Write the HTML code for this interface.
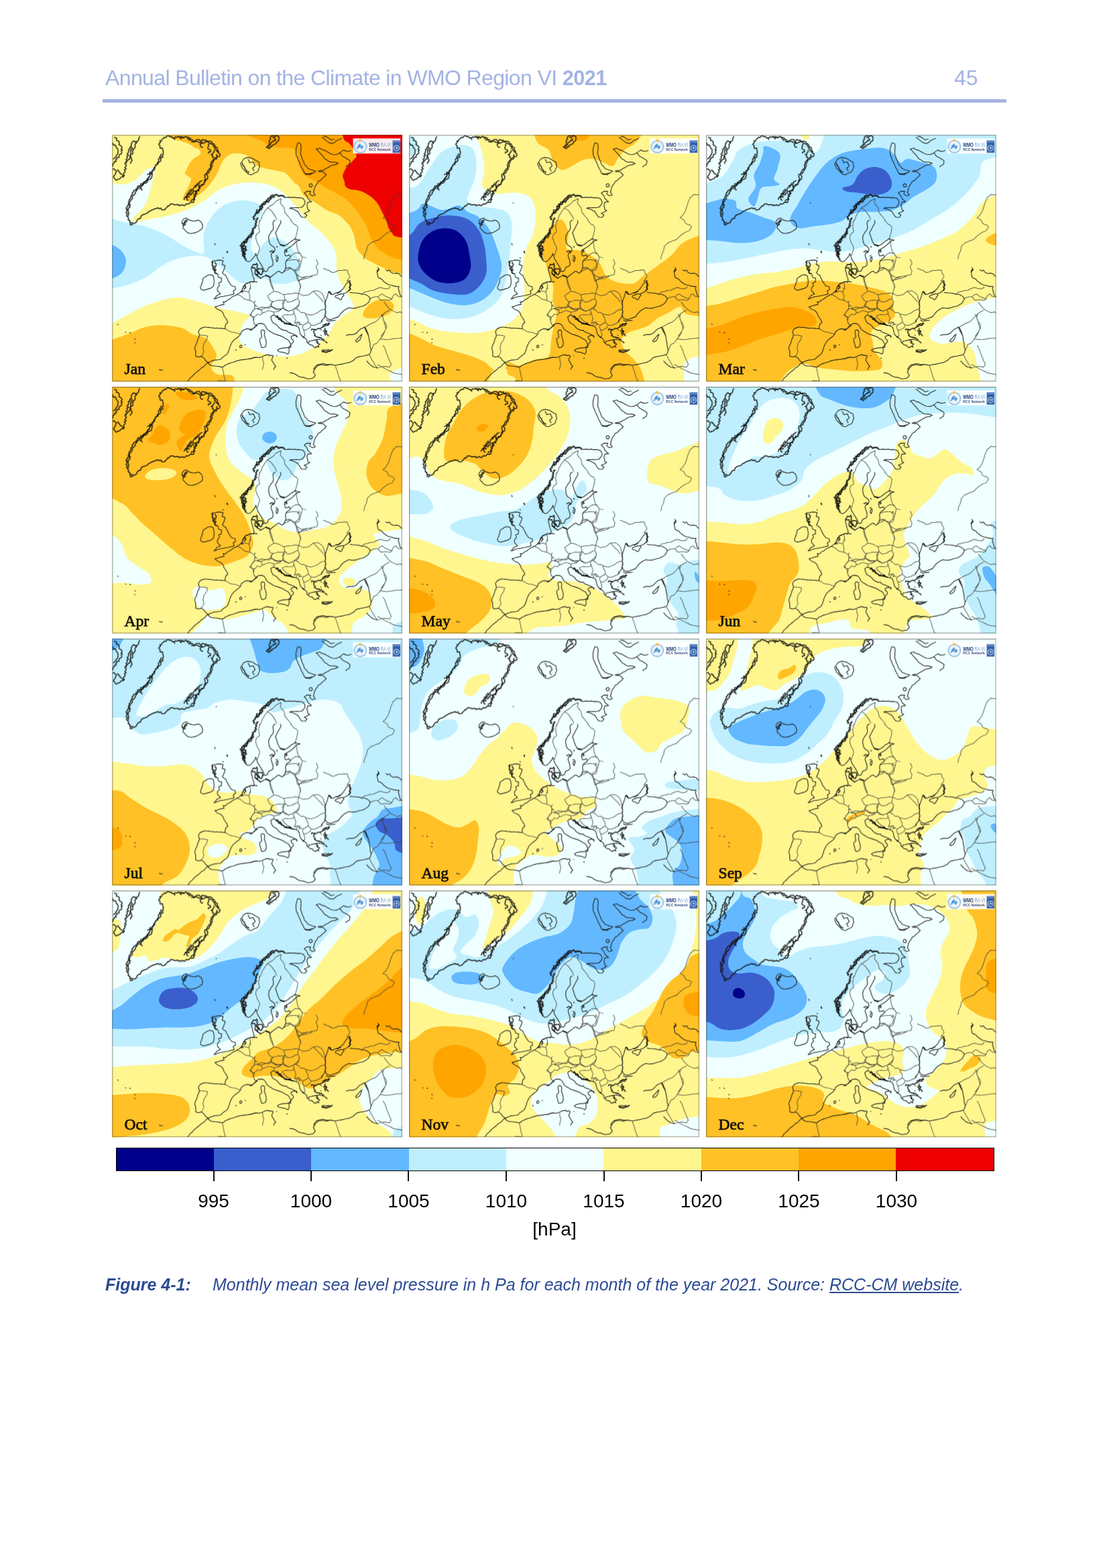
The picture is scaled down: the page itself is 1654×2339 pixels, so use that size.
<!DOCTYPE html>
<html lang="en"><head><meta charset="utf-8"><title>Annual Bulletin on the Climate in WMO Region VI 2021</title>
<style>
html,body{margin:0;padding:0;background:#fff}
body{width:1654px;height:2339px;position:relative;overflow:hidden;font-family:"Liberation Sans",sans-serif}
.abs{position:absolute;white-space:nowrap;line-height:1}
#fig{position:absolute;left:0;top:0;display:block}
.hdr{left:157px;top:100px;font-size:32px;color:#a3b3e3;letter-spacing:-0.62px}
.hdr b{font-size:30.6px;letter-spacing:-0.5px}
.pg{left:1423px;top:100px;font-size:32px;color:#a3b3e3}
.rule{position:absolute;left:153px;top:148px;width:1348px;height:5px;background:#a3b3e3}
.cb{position:absolute;left:172.6px;top:1712.2px;width:1310px;height:35px;border:1px solid #000;box-sizing:border-box;display:flex}
.cb i{flex:1;display:block}
.tk{position:absolute;top:1747px;width:2px;height:15px;background:#111}
.tl{font-size:28px;color:#000;top:1778px;width:120px;text-align:center}
.cap{top:1904px;font-size:25px;font-style:italic;color:#2c4a94}
.cap a{color:#2c4a94;text-decoration:underline}
</style></head><body>
<div class="abs hdr">Annual Bulletin on the Climate in WMO Region VI <b>2021</b></div>
<div class="abs pg">45</div>
<div class="rule"></div>
<svg id="fig" width="1654" height="2339" viewBox="0 0 1654 2339">

<svg x="167.20" y="201.20" width="432.7" height="368" viewBox="19.06 19.06 1586.24 1349.06" preserveAspectRatio="none">
<rect x="0" y="0" width="1700" height="1400" fill="#fff68f"/>
<path fill="#f0ffff" d="M-40,250C-40,250 30,287 60,290C90,293 117,282 140,270C163,258 182,227 200,215C218,203 244,188 250,200C256,212 243,257 235,290C227,323 218,367 200,400C182,433 122,478 130,490C138,502 205,483 250,475C295,467 355,456 400,440C445,424 483,402 520,380C557,358 582,327 620,310C658,293 703,282 750,280C797,278 858,283 900,300C942,317 970,350 1000,380C1030,410 1050,448 1080,480C1110,512 1153,540 1180,570C1207,600 1228,625 1240,660C1252,695 1240,743 1250,780C1260,817 1285,850 1300,880C1315,910 1343,938 1340,960C1337,982 1298,993 1280,1010C1262,1027 1243,1043 1230,1060C1217,1077 1218,1090 1200,1110C1182,1130 1147,1162 1120,1180C1093,1198 1073,1212 1040,1220C1007,1228 960,1233 920,1230C880,1227 833,1213 800,1200C767,1187 732,1173 720,1150C708,1127 722,1083 730,1060C738,1037 775,1022 770,1010C765,998 728,992 700,985C672,978 633,973 600,965C567,957 533,944 500,935C467,926 433,912 400,910C367,908 333,912 300,920C267,928 233,941 200,955C167,969 140,984 100,1005C60,1026 -40,1080 -40,1080L-40,250Z"/>
<path fill="#bfefff" d="M-40,460C-40,460 20,480 60,490C100,500 160,508 200,520C240,532 267,543 300,560C333,577 372,604 400,620C428,636 450,648 470,655C490,662 512,681 520,665C528,649 513,592 520,560C527,528 543,495 560,470C577,445 597,425 620,410C643,395 672,384 700,380C728,376 767,378 790,385C813,392 835,404 840,420C845,436 828,457 820,480C812,503 797,533 790,560C783,587 777,622 780,640C783,658 798,675 810,670C822,665 835,625 850,610C865,595 882,582 900,580C918,578 942,588 960,600C978,612 997,630 1010,650C1023,670 1035,695 1040,720C1045,745 1050,782 1040,800C1030,818 1003,825 980,830C957,835 922,835 900,830C878,825 868,802 850,800C832,798 810,810 790,815C770,820 750,834 730,830C710,826 690,805 670,790C650,775 628,755 610,740C592,725 578,710 560,700C542,690 527,682 500,680C473,678 433,682 400,690C367,698 333,712 300,730C267,748 233,782 200,800C167,818 140,828 100,840C60,852 -40,870 -40,870L-40,460Z"/>
<path fill="#63b8ff" d="M-40,600C-40,600 11,615 30,625C49,635 64,646 75,660C86,674 95,692 95,710C95,728 86,755 75,770C64,785 49,792 30,800C11,808 -40,820 -40,820L-40,600Z"/>
<path fill="#ffc125" d="M326,-40C326,-40 322,7 326,20C330,33 338,34 351,40C364,46 386,50 401,55C416,60 429,64 441,70C453,76 462,85 471,90C480,95 491,94 496,100C501,106 505,118 501,125C497,132 480,138 471,145C462,152 454,159 446,170C438,181 431,200 426,210C421,220 414,225 416,231C418,237 430,241 436,246C442,251 450,254 451,261C452,268 445,281 441,291C437,301 431,311 426,321C421,331 414,343 411,351C408,359 404,366 406,371C408,376 417,379 426,381C435,383 453,384 461,381C469,378 469,368 476,361C483,354 492,348 501,341C510,334 522,325 531,316C540,307 548,297 556,286C564,275 574,263 581,251C588,239 595,228 601,215C607,202 611,186 616,176C621,166 625,160 632,152C639,144 648,135 657,130C666,125 675,122 686,121C697,120 712,120 724,122C736,124 746,126 757,133C768,140 780,154 789,163C798,172 804,182 811,187C818,192 823,192 833,195C843,198 860,203 873,206C886,209 900,211 914,214C928,217 945,218 955,222C965,226 969,230 976,236C983,242 988,249 995,257C1002,265 1010,275 1017,282C1024,289 1031,287 1039,298C1047,309 1055,335 1064,346C1073,357 1084,359 1094,366C1104,373 1115,379 1125,386C1135,393 1145,399 1155,406C1165,413 1175,420 1185,426C1195,432 1205,437 1215,441C1225,445 1235,446 1245,451C1255,456 1266,464 1275,471C1284,478 1292,488 1300,496C1308,504 1314,512 1320,521C1326,530 1331,541 1335,551C1339,561 1342,570 1345,581C1348,592 1348,605 1350,616C1352,627 1355,637 1360,646C1365,655 1372,663 1380,671C1388,679 1393,688 1405,696C1417,704 1434,712 1450,720C1466,728 1482,737 1500,745C1518,753 1527,761 1560,770C1593,779 1700,800 1700,800L1700,-60L326,-40Z"/>
<path fill="#ffa500" d="M760,-40C760,-40 763,8 768,20C773,32 780,29 789,33C798,37 811,41 822,46C833,51 843,56 854,62C865,68 877,75 887,79C897,83 903,85 914,87C925,89 942,88 955,89C968,90 984,90 995,92C1006,94 1016,94 1022,100C1028,106 1032,118 1034,130C1036,142 1032,157 1034,170C1036,183 1042,198 1049,210C1056,222 1064,232 1074,241C1084,250 1097,254 1109,261C1121,268 1134,274 1145,281C1156,288 1164,294 1175,301C1186,308 1199,315 1210,321C1221,327 1229,330 1240,336C1251,342 1264,349 1275,356C1286,363 1296,368 1305,376C1314,384 1322,392 1330,401C1338,410 1348,421 1355,431C1362,441 1368,451 1375,461C1382,471 1388,480 1395,491C1402,502 1410,514 1415,526C1420,538 1421,549 1425,561C1429,573 1434,585 1440,596C1446,607 1452,617 1460,626C1468,635 1476,644 1485,651C1494,658 1505,665 1515,671C1525,677 1535,682 1545,686C1555,690 1549,690 1575,696C1601,702 1700,720 1700,720L1700,-60L760,-40Z"/>
<path fill="#ee0000" d="M1270,-40C1270,-40 1278,22 1285,40C1292,58 1306,55 1315,65C1324,75 1333,88 1340,100C1347,112 1356,125 1355,135C1354,145 1342,152 1335,160C1328,168 1318,176 1310,185C1302,194 1295,205 1290,215C1285,225 1280,236 1280,246C1280,256 1288,267 1290,276C1292,285 1290,294 1295,301C1300,308 1310,313 1320,316C1330,319 1343,318 1355,321C1367,324 1378,326 1390,331C1402,336 1414,344 1425,351C1436,358 1447,368 1455,376C1463,384 1469,392 1475,401C1481,410 1485,421 1490,431C1495,441 1500,451 1505,461C1510,471 1516,480 1520,491C1524,502 1525,515 1530,526C1535,537 1542,548 1550,556C1558,564 1550,570 1575,576C1600,582 1700,590 1700,590L1700,-60L1270,-40Z"/>
<path fill="#ffc125" d="M-40,1160C-40,1160 60,1125 100,1110C140,1095 167,1078 200,1070C233,1062 267,1059 300,1060C333,1061 373,1067 400,1075C427,1083 438,1101 460,1110C482,1119 512,1118 530,1130C548,1142 560,1163 570,1180C580,1197 592,1212 590,1230C588,1248 558,1273 560,1290C562,1307 580,1322 600,1330C620,1338 663,1322 680,1340C697,1358 700,1440 700,1440L-40,1440L-40,1160Z"/>
<path fill="#ffc125" d="M1390,1000C1392,988 1405,963 1420,950C1435,937 1460,923 1480,920C1500,917 1527,923 1540,930C1553,937 1562,948 1560,960C1558,972 1547,990 1530,1000C1513,1010 1480,1017 1460,1020C1440,1023 1422,1023 1410,1020C1398,1017 1388,1012 1390,1000Z"/>
<path fill="#f0ffff" d="M1560,1400C1560,1400 1525,1340 1540,1320C1555,1300 1650,1280 1650,1280L1700,1400L1560,1400Z"/>
</svg>
<svg x="610.20" y="201.20" width="432.7" height="368" viewBox="19.06 19.06 1586.24 1349.06" preserveAspectRatio="none">
<rect x="0" y="0" width="1700" height="1400" fill="#fff68f"/>
<path fill="#f0ffff" d="M-40,-40L330,-40C330,-40 383,20 400,60C417,100 427,160 430,200C433,240 408,277 420,300C432,323 470,334 500,340C530,346 570,332 600,335C630,338 662,342 680,360C698,378 707,408 710,440C713,472 708,517 700,550C692,583 670,608 660,640C650,672 642,705 640,740C638,775 650,815 650,850C650,885 648,922 640,950C632,978 620,1000 600,1020C580,1040 553,1057 520,1070C487,1083 440,1095 400,1100C360,1105 322,1103 280,1100C238,1097 187,1090 150,1080C113,1070 92,1053 60,1040C28,1027 -40,1000 -40,1000L-40,-40Z"/>
<path fill="#bfefff" d="M-40,20C-40,20 22,20 40,30C58,40 70,63 70,80C70,97 58,118 40,130C22,142 -40,150 -40,150L-40,20Z"/>
<path fill="#bfefff" d="M-40,300C-40,300 32,317 60,300C88,283 107,232 130,200C153,168 172,131 200,110C228,89 273,78 300,75C327,72 346,78 360,90C374,102 382,123 385,150C388,177 386,220 380,250C374,280 357,308 350,330C343,352 332,367 340,380C348,393 377,403 400,410C423,417 455,415 480,420C505,425 533,427 550,440C567,453 576,473 580,500C584,527 578,560 575,600C572,640 566,698 560,740C554,782 550,818 540,850C530,882 523,905 500,930C477,955 433,984 400,1000C367,1016 333,1022 300,1025C267,1028 233,1026 200,1020C167,1014 140,1005 100,990C60,975 -40,930 -40,930L-40,300Z"/>
<path fill="#63b8ff" d="M-40,470C-40,470 37,442 60,430C83,418 77,395 100,395C123,395 168,428 200,430C232,432 267,403 290,405C313,407 322,429 340,440C358,451 380,453 400,470C420,487 443,512 460,540C477,568 489,607 500,640C511,673 525,708 525,740C525,772 512,803 500,830C488,857 470,882 450,900C430,918 405,932 380,940C355,948 330,952 300,950C270,948 233,940 200,930C167,920 140,907 100,890C60,873 -40,830 -40,830L-40,470Z"/>
<path fill="#3a5fcd" d="M-40,600C-40,600 10,577 30,560C50,543 58,515 80,500C102,485 132,477 160,470C188,463 220,458 250,460C280,462 315,467 340,480C365,493 385,517 400,540C415,563 423,593 430,620C437,647 438,673 440,700C442,727 447,755 440,780C433,805 417,832 400,850C383,868 365,883 340,890C315,897 282,893 250,890C218,887 178,880 150,870C122,860 112,845 80,830C48,815 -40,780 -40,780L-40,600Z"/>
<path fill="#00008b" d="M68,680C70,658 78,622 90,600C102,578 120,562 140,550C160,538 187,531 210,530C233,529 260,533 280,545C300,557 318,578 330,600C342,622 346,655 350,680C354,705 360,728 355,750C350,772 338,797 320,810C302,823 275,828 250,830C225,832 193,828 170,820C147,812 126,795 110,780C94,765 82,747 75,730C68,713 66,702 68,680Z"/>
<path fill="#ffc125" d="M690,-40C690,-40 705,37 720,60C735,83 765,82 780,100C795,118 798,152 810,170C822,188 835,206 850,210C865,214 882,203 900,195C918,187 940,168 960,160C980,152 1000,148 1020,150C1040,152 1062,163 1080,170C1098,177 1117,193 1130,190C1143,187 1148,165 1160,150C1172,135 1183,115 1200,100C1217,85 1238,83 1260,60C1282,37 1330,-40 1330,-40L690,-40Z"/>
<path fill="#ffa500" d="M890,-40C890,-40 908,25 920,40C932,55 947,52 960,50C973,48 992,45 1000,30C1008,15 1010,-40 1010,-40L890,-40Z"/>
<path fill="#ffc125" d="M840,480C848,480 862,487 870,500C878,513 888,537 890,560C892,583 872,625 880,640C888,655 920,645 940,650C960,655 980,658 1000,670C1020,682 1045,702 1060,720C1075,738 1080,765 1090,780C1100,795 1105,802 1120,810C1135,818 1158,827 1180,830C1202,833 1230,837 1250,830C1270,823 1280,805 1300,790C1320,775 1345,758 1370,740C1395,722 1423,703 1450,680C1477,657 1488,623 1530,600C1572,577 1700,540 1700,540L1700,1020C1700,1020 1573,1010 1540,1000C1507,990 1517,962 1500,960C1483,958 1460,980 1440,990C1420,1000 1398,1008 1380,1020C1362,1032 1347,1050 1330,1060C1313,1070 1298,1073 1280,1080C1262,1087 1237,1090 1220,1100C1203,1110 1183,1123 1180,1140C1177,1157 1188,1182 1200,1200C1212,1218 1235,1232 1250,1250C1265,1268 1278,1278 1290,1310C1302,1342 1320,1440 1320,1440L-40,1440L-40,1080C-40,1080 47,1115 80,1130C113,1145 130,1158 160,1170C190,1182 227,1190 260,1200C293,1210 332,1220 360,1230C388,1240 410,1248 430,1260C450,1272 462,1293 480,1300C498,1307 527,1307 540,1300C553,1293 547,1263 560,1260C573,1257 597,1282 620,1280C643,1278 673,1258 700,1250C727,1242 764,1247 780,1230C796,1213 790,1178 795,1150C800,1122 805,1085 810,1060C815,1035 826,1023 825,1000C824,977 808,945 805,920C802,895 810,870 808,850C806,830 797,822 790,800C783,778 773,747 765,720C757,693 738,667 740,640C742,613 767,583 780,560C793,537 810,513 820,500C830,487 832,480 840,480Z"/>
<path fill="#fff68f" d="M440,1400C440,1400 460,1338 470,1320C480,1302 487,1293 500,1290C513,1287 540,1293 550,1300C560,1307 552,1322 560,1330C568,1338 593,1338 600,1350C607,1362 600,1400 600,1400L440,1400Z"/>
<path fill="#f0ffff" d="M1530,1400C1530,1400 1515,1317 1520,1290C1525,1263 1530,1252 1560,1240C1590,1228 1700,1220 1700,1220L1700,1400L1530,1400Z"/>
</svg>
<svg x="1053.20" y="201.20" width="432.7" height="368" viewBox="19.06 19.06 1586.24 1349.06" preserveAspectRatio="none">
<rect x="0" y="0" width="1700" height="1400" fill="#f0ffff"/>
<path fill="#fff68f" d="M-40,880C-40,880 60,843 100,830C140,817 167,808 200,800C233,792 267,785 300,780C333,775 367,775 400,770C433,765 467,758 500,750C533,742 567,729 600,722C633,715 667,711 700,710C733,709 767,715 800,715C833,715 867,714 900,710C933,706 967,698 1000,690C1033,682 1067,670 1100,660C1133,650 1167,642 1200,630C1233,618 1267,605 1300,590C1333,575 1370,562 1400,540C1430,518 1457,487 1480,460C1503,433 1503,407 1540,380C1577,353 1700,300 1700,300L1700,1440L-40,1440L-40,880Z"/>
<path fill="#fff68f" d="M530,-40C530,-40 532,17 540,30C548,43 572,52 580,40C588,28 585,-40 585,-40L530,-40Z"/>
<path fill="#f0ffff" d="M1700,890C1700,890 1553,915 1500,930C1447,945 1415,962 1380,980C1345,998 1313,1017 1290,1040C1267,1063 1238,1100 1240,1120C1242,1140 1270,1155 1300,1160C1330,1165 1390,1143 1420,1150C1450,1157 1467,1178 1480,1200C1493,1222 1490,1240 1500,1280C1510,1320 1540,1440 1540,1440L1700,1440L1700,890Z"/>
<path fill="#ffc125" d="M-40,965C-40,965 60,949 100,940C140,931 167,920 200,910C233,900 267,890 300,880C333,870 367,858 400,850C433,842 467,836 500,830C533,824 567,817 600,815C633,813 667,818 700,820C733,822 767,825 800,830C833,835 870,843 900,850C930,857 958,862 980,870C1002,878 1020,885 1030,900C1040,915 1037,942 1040,960C1043,978 1057,995 1050,1010C1043,1025 1017,1040 1000,1050C983,1060 963,1062 950,1070C937,1078 923,1087 920,1100C917,1113 927,1133 930,1150C933,1167 932,1182 940,1200C948,1218 975,1243 980,1260C985,1277 983,1292 970,1300C957,1308 928,1308 900,1310C872,1312 833,1312 800,1310C767,1308 730,1303 700,1300C670,1297 643,1295 620,1290C597,1285 580,1270 560,1270C540,1270 518,1280 500,1290C482,1300 470,1305 450,1330C430,1355 380,1440 380,1440L-40,1440L-40,965Z"/>
<path fill="#ffa500" d="M-40,1090C-40,1090 60,1072 100,1060C140,1048 167,1032 200,1020C233,1008 267,998 300,990C333,982 370,975 400,970C430,965 453,958 480,960C507,962 538,972 560,980C582,988 600,998 610,1010C620,1022 625,1040 620,1050C615,1060 600,1065 580,1070C560,1075 530,1073 500,1080C470,1087 433,1100 400,1110C367,1120 333,1128 300,1140C267,1152 233,1168 200,1180C167,1192 140,1202 100,1210C60,1218 -40,1230 -40,1230L-40,1090Z"/>
<path fill="#ffc125" d="M1700,520C1700,520 1593,555 1570,570C1547,585 1538,597 1560,610C1582,623 1700,650 1700,650L1700,520Z"/>
<path fill="#bfefff" d="M-40,300C-40,300 67,272 100,250C133,228 143,195 160,170C177,145 177,118 200,100C223,82 263,68 300,60C337,52 380,50 420,50C460,50 510,50 540,60C570,70 583,105 600,110C617,115 627,115 640,90C653,65 680,-40 680,-40L1700,-40L1700,130C1700,130 1572,140 1540,160C1508,180 1527,220 1510,250C1493,280 1467,312 1440,340C1413,368 1382,397 1350,420C1318,443 1283,460 1250,480C1217,500 1183,523 1150,540C1117,557 1083,568 1050,580C1017,592 983,600 950,610C917,620 883,632 850,640C817,648 783,658 750,660C717,662 683,653 650,650C617,647 583,640 550,640C517,640 483,645 450,650C417,655 383,663 350,670C317,677 283,683 250,690C217,697 198,703 150,710C102,717 -40,730 -40,730L-40,300Z"/>
<path fill="#63b8ff" d="M340,80C355,80 408,100 420,120C432,140 415,177 410,200C405,223 388,245 390,260C392,275 422,283 420,290C418,297 397,297 380,300C363,303 333,298 320,310C307,322 307,353 300,370C293,387 288,410 280,410C272,410 248,388 250,370C252,352 285,322 290,300C295,278 277,260 280,240C283,220 302,200 310,180C318,160 325,137 330,120C335,103 325,80 340,80Z"/>
<path fill="#63b8ff" d="M-40,410C-40,410 70,377 100,370C130,363 127,368 140,370C153,372 172,372 180,380C188,388 178,410 190,420C202,430 227,432 250,440C273,448 305,460 330,470C355,480 392,485 400,500C408,515 397,543 380,560C363,577 330,592 300,600C270,608 233,610 200,610C167,610 140,603 100,600C60,597 -40,590 -40,590L-40,410Z"/>
<path fill="#63b8ff" d="M480,470C485,452 507,423 520,400C533,377 543,357 560,330C577,303 600,267 620,240C640,213 657,190 680,170C703,150 730,132 760,120C790,108 823,105 860,100C897,95 950,87 980,90C1010,93 1023,107 1040,120C1057,133 1067,165 1080,170C1093,175 1100,150 1120,150C1140,150 1177,163 1200,170C1223,177 1247,180 1260,190C1273,200 1278,215 1280,230C1282,245 1280,265 1270,280C1260,295 1240,307 1220,320C1200,333 1170,347 1150,360C1130,373 1118,388 1100,400C1082,412 1063,423 1040,430C1017,437 987,438 960,440C933,442 903,438 880,440C857,442 840,442 820,450C800,458 783,480 760,490C737,500 707,505 680,510C653,515 625,517 600,520C575,523 548,532 530,530C512,528 498,520 490,510C482,500 475,488 480,470Z"/>
<path fill="#3a5fcd" d="M765,310C770,303 806,302 820,290C834,278 838,254 850,240C862,226 873,212 890,205C907,198 932,193 950,195C968,197 987,204 1000,215C1013,226 1025,244 1030,260C1035,276 1037,297 1030,310C1023,323 1008,334 990,340C972,346 943,346 920,345C897,344 872,338 850,335C828,332 804,334 790,330C776,326 760,317 765,310Z"/>
</svg>
<svg x="167.20" y="576.95" width="432.7" height="368" viewBox="19.06 18.15 1586.24 1349.06" preserveAspectRatio="none">
<rect x="0" y="0" width="1700" height="1400" fill="#fff68f"/>
<path fill="#ffc125" d="M-40,-40L685,-40C685,-40 678,60 670,100C662,140 655,167 640,200C625,233 595,267 580,300C565,333 548,367 550,400C552,433 575,470 590,500C605,530 622,553 640,580C658,607 682,633 700,660C718,687 737,713 750,740C763,767 773,797 780,820C787,843 793,860 790,880C787,900 775,925 760,940C745,955 720,962 700,970C680,978 660,985 640,990C620,995 603,1000 580,1000C557,1000 527,997 500,990C473,983 447,975 420,960C393,945 367,922 340,900C313,878 285,852 260,830C235,808 212,790 190,770C168,750 148,728 130,710C112,692 108,678 80,660C52,642 -40,600 -40,600L-40,-40Z"/>
<path fill="#ffa500" d="M215,316C212,308 228,294 236,281C244,268 254,250 261,241C268,232 273,226 281,226C289,226 303,235 311,241C319,247 327,252 331,261C335,270 338,286 336,296C334,306 330,314 321,321C312,328 293,335 281,336C269,337 262,329 251,326C240,323 218,324 215,316Z"/>
<path fill="#ffa500" d="M386,241C387,230 394,213 401,200C408,187 416,173 426,165C436,157 448,153 461,150C474,147 490,145 501,145C512,145 521,145 526,150C531,155 532,165 531,175C530,185 526,197 521,210C516,223 508,239 501,251C494,263 489,273 481,281C473,289 460,296 451,301C442,306 433,304 426,311C419,318 416,331 411,341C406,351 401,369 396,371C391,373 385,359 381,351C377,343 370,329 371,321C372,313 378,308 386,301C394,294 414,287 416,281C418,275 401,273 396,266C391,259 385,252 386,241Z"/>
<path fill="#ffa500" d="M366,55C366,49 380,46 391,45C402,44 418,47 431,50C444,53 462,60 471,65C480,70 488,76 486,80C484,84 472,88 461,90C450,92 433,92 421,90C409,88 400,86 391,80C382,74 366,61 366,55Z"/>
<path fill="#ffa500" d="M296,150C298,142 306,126 311,120C316,114 323,113 326,115C329,117 333,123 331,130C329,137 321,148 316,155C311,162 304,171 301,170C298,169 294,158 296,150Z"/>
<path fill="#fff68f" d="M200,506C202,500 210,488 220,481C230,474 246,469 261,466C276,463 296,462 311,463C326,464 341,467 351,471C361,475 369,480 371,486C373,492 368,500 361,506C354,512 344,517 331,521C318,525 298,528 281,529C264,530 239,528 226,526C213,524 209,522 205,519C201,516 198,512 200,506Z"/>
<path fill="#f0ffff" d="M750,-40C750,-40 737,37 720,80C703,123 663,178 650,220C637,262 638,297 640,330C642,363 647,395 660,420C673,445 698,462 720,480C742,498 777,513 790,530C803,547 800,560 800,580C800,600 788,630 790,650C792,670 800,685 810,700C820,715 835,730 850,740C865,750 883,752 900,760C917,768 933,782 950,790C967,798 982,806 1000,810C1018,814 1040,817 1060,815C1080,813 1100,804 1120,800C1140,796 1162,797 1180,790C1198,783 1215,775 1230,760C1245,745 1263,723 1270,700C1277,677 1273,647 1270,620C1267,593 1257,568 1250,540C1243,512 1232,482 1230,450C1228,418 1232,382 1240,350C1248,318 1268,288 1280,260C1292,232 1307,207 1310,180C1313,153 1310,122 1300,100C1290,78 1267,73 1250,50C1233,27 1200,-40 1200,-40L750,-40Z"/>
<path fill="#bfefff" d="M820,100C833,83 840,62 860,50C880,38 915,32 940,30C965,28 993,28 1010,40C1027,52 1032,77 1040,100C1048,123 1050,158 1060,180C1070,202 1090,212 1100,230C1110,248 1120,272 1120,290C1120,308 1107,322 1100,340C1093,358 1092,382 1080,400C1068,418 1042,433 1030,450C1018,467 1022,487 1010,500C998,513 978,530 960,530C942,530 915,513 900,500C885,487 877,467 870,450C863,433 872,405 860,400C848,395 818,423 800,420C782,417 765,397 750,380C735,363 718,342 710,320C702,298 698,272 700,250C702,228 707,207 720,190C733,173 763,165 780,150C797,135 807,117 820,100Z"/>
<path fill="#63b8ff" d="M840,295C840,287 845,277 852,272C859,267 871,263 880,263C889,263 901,267 908,272C915,277 920,287 920,295C920,303 915,312 908,318C901,324 889,328 880,328C871,328 859,324 852,318C845,312 840,303 840,295Z"/>
<path fill="#ffc125" d="M1700,80C1700,80 1570,110 1540,130C1510,150 1527,172 1520,200C1513,228 1510,270 1500,300C1490,330 1473,358 1460,380C1447,402 1428,410 1420,430C1412,450 1407,477 1410,500C1413,523 1425,552 1440,570C1455,588 1480,603 1500,610C1520,617 1527,615 1560,610C1593,605 1700,580 1700,580L1700,80Z"/>
<path fill="#f0ffff" d="M-40,790C-40,790 37,833 60,860C83,887 83,927 100,950C117,973 140,985 160,1000C180,1015 208,1025 220,1040C232,1055 240,1080 230,1090C220,1100 185,1100 160,1100C135,1100 113,1090 80,1090C47,1090 -40,1100 -40,1100L-40,790Z"/>
<path fill="#f0ffff" d="M460,1130C465,1117 483,1110 500,1110C517,1110 540,1128 560,1130C580,1132 607,1115 620,1120C633,1125 638,1143 640,1160C642,1177 643,1207 630,1220C617,1233 582,1238 560,1240C538,1242 515,1238 500,1230C485,1222 477,1207 470,1190C463,1173 455,1143 460,1130Z"/>
<path fill="#f0ffff" d="M420,1400C420,1400 480,1342 500,1320C520,1298 523,1275 540,1270C557,1265 573,1288 600,1290C627,1292 667,1287 700,1280C733,1273 773,1257 800,1250C827,1243 843,1235 860,1240C877,1245 883,1267 900,1280C917,1293 943,1300 960,1320C977,1340 1000,1400 1000,1400L420,1400Z"/>
<path fill="#f0ffff" d="M1700,790C1700,790 1542,803 1500,810C1458,817 1453,818 1450,830C1447,842 1482,865 1480,880C1478,895 1457,907 1440,920C1423,933 1403,943 1380,960C1357,977 1320,1002 1300,1020C1280,1038 1262,1053 1260,1070C1258,1087 1272,1112 1290,1120C1308,1128 1347,1115 1370,1120C1393,1125 1418,1133 1430,1150C1442,1167 1445,1200 1440,1220C1435,1240 1417,1255 1400,1270C1383,1285 1353,1288 1340,1310C1327,1332 1320,1400 1320,1400L1700,1400L1700,790Z"/>
<path fill="#fff68f" d="M1280,1080C1282,1072 1298,1061 1310,1060C1322,1059 1345,1068 1350,1075C1355,1082 1348,1095 1340,1100C1332,1105 1310,1108 1300,1105C1290,1102 1278,1088 1280,1080Z"/>
<path fill="#bfefff" d="M1570,1400C1570,1400 1538,1342 1560,1320C1582,1298 1700,1270 1700,1270L1700,1400L1570,1400Z"/>
</svg>
<svg x="610.20" y="576.95" width="432.7" height="368" viewBox="19.06 18.15 1586.24 1349.06" preserveAspectRatio="none">
<rect x="0" y="0" width="1700" height="1400" fill="#f0ffff"/>
<path fill="#fff68f" d="M-40,-40L720,-40C720,-40 760,17 780,35C800,53 822,54 840,70C858,86 875,108 885,130C895,152 901,172 900,200C899,228 893,267 880,300C867,333 843,368 820,400C797,432 767,463 740,490C713,517 687,542 660,560C633,578 607,592 580,600C553,608 530,612 500,610C470,608 433,600 400,590C367,580 333,560 300,550C267,540 227,538 200,530C173,522 157,517 140,500C123,483 113,447 100,430C87,413 83,400 60,400C37,400 -40,430 -40,430L-40,-40Z"/>
<path fill="#ffc125" d="M210,400C207,378 212,330 220,300C228,270 247,245 260,220C273,195 283,172 300,150C317,128 337,107 360,90C383,73 410,58 440,50C470,42 510,38 540,40C570,42 597,50 620,60C643,70 665,83 680,100C695,117 707,137 710,160C713,183 703,213 700,240C697,267 697,293 690,320C683,347 675,375 660,400C645,425 620,452 600,470C580,488 560,502 540,510C520,518 500,525 480,520C460,515 437,493 420,480C403,467 400,450 380,440C360,430 323,422 300,420C277,418 255,433 240,430C225,427 213,422 210,400Z"/>
<path fill="#ffa500" d="M390,240C393,233 410,222 420,220C430,218 448,223 450,230C452,237 438,255 430,260C422,265 407,265 400,262C393,259 387,247 390,240Z"/>
<path fill="#bfefff" d="M-40,575C-40,575 52,581 80,590C108,599 118,615 130,630C142,645 152,667 150,680C148,693 135,704 120,710C105,716 87,714 60,715C33,716 -40,715 -40,715L-40,575Z"/>
<path fill="#bfefff" d="M250,770C262,760 292,748 320,740C348,732 387,727 420,720C453,713 490,705 520,700C550,695 573,700 600,690C627,680 657,655 680,640C703,625 717,610 740,600C763,590 798,582 820,580C842,578 857,580 870,590C883,600 888,645 900,640C912,635 928,578 940,560C952,542 962,527 970,530C978,533 992,565 990,580C988,595 970,607 960,620C950,633 937,643 930,660C923,677 927,702 920,720C913,738 903,758 890,770C877,782 858,780 840,790C822,800 803,818 780,830C757,842 727,852 700,860C673,868 647,875 620,880C593,885 567,890 540,890C513,890 487,885 460,880C433,875 407,868 380,860C353,852 322,840 300,830C278,820 258,810 250,800C242,790 238,780 250,770Z"/>
<path fill="#fff68f" d="M-40,820C-40,820 60,847 100,860C140,873 167,888 200,900C233,912 267,920 300,930C333,940 367,952 400,960C433,968 467,975 500,980C533,985 567,988 600,990C633,992 670,992 700,990C730,988 763,978 780,980C797,982 800,988 800,1000C800,1012 775,1037 780,1050C785,1063 810,1075 830,1080C850,1085 875,1077 900,1080C925,1083 955,1092 980,1100C1005,1108 1027,1117 1050,1130C1073,1143 1100,1163 1120,1180C1140,1197 1157,1213 1170,1230C1183,1247 1203,1270 1200,1280C1197,1290 1175,1287 1150,1290C1125,1293 1083,1297 1050,1300C1017,1303 975,1307 950,1310C925,1313 925,1317 900,1320C875,1323 833,1327 800,1330C767,1333 728,1328 700,1340C672,1352 630,1400 630,1400L-40,1400L-40,820Z"/>
<path fill="#ffc125" d="M-40,945C-40,945 60,959 100,970C140,981 167,997 200,1010C233,1023 267,1037 300,1050C333,1063 375,1077 400,1090C425,1103 438,1115 450,1130C462,1145 468,1162 470,1180C472,1198 468,1222 460,1240C452,1258 437,1273 420,1290C403,1307 382,1322 360,1340C338,1358 290,1400 290,1400L-40,1400L-40,945Z"/>
<path fill="#ffa500" d="M-40,1115C-40,1115 33,1119 60,1125C87,1131 103,1139 120,1150C137,1161 155,1177 160,1190C165,1203 160,1220 150,1230C140,1240 132,1244 100,1250C68,1256 -40,1265 -40,1265L-40,1115Z"/>
<path fill="#fff68f" d="M1700,280C1700,280 1587,325 1550,340C1513,355 1505,362 1480,370C1455,378 1423,382 1400,390C1377,398 1353,405 1340,420C1327,435 1322,460 1320,480C1318,500 1317,527 1330,540C1343,553 1377,552 1400,560C1423,568 1447,583 1470,590C1493,597 1502,605 1540,600C1578,595 1700,560 1700,560L1700,280Z"/>
<path fill="#bfefff" d="M1700,950C1700,950 1593,963 1560,970C1527,977 1520,988 1500,990C1480,992 1455,975 1440,980C1425,985 1412,1005 1410,1020C1408,1035 1428,1052 1430,1070C1432,1088 1417,1108 1420,1130C1423,1152 1438,1178 1450,1200C1462,1222 1485,1240 1490,1260C1495,1280 1477,1297 1480,1320C1483,1343 1510,1400 1510,1400L1700,1400L1700,950Z"/>
<path fill="#63b8ff" d="M1580,1030C1582,1027 1596,1040 1600,1050C1604,1060 1606,1087 1603,1090C1600,1093 1589,1080 1585,1070C1581,1060 1578,1033 1580,1030Z"/>
</svg>
<svg x="1053.20" y="576.95" width="432.7" height="368" viewBox="19.06 18.15 1586.24 1349.06" preserveAspectRatio="none">
<rect x="0" y="0" width="1700" height="1400" fill="#f0ffff"/>
<path fill="#bfefff" d="M-40,560C-40,560 53,562 80,570C107,578 100,598 120,610C140,622 170,635 200,640C230,645 267,645 300,640C333,635 370,620 400,610C430,600 457,593 480,580C503,567 527,548 540,530C553,512 547,488 560,470C573,452 597,435 620,420C643,405 670,395 700,380C730,365 767,347 800,330C833,313 867,295 900,280C933,265 967,253 1000,240C1033,227 1067,212 1100,200C1133,188 1167,177 1200,170C1233,163 1267,162 1300,160C1333,158 1367,158 1400,160C1433,162 1450,163 1500,170C1550,177 1700,200 1700,200L1700,-40L-40,-40L-40,560Z"/>
<path fill="#f0ffff" d="M140,470C140,453 158,408 170,380C182,352 195,327 210,300C225,273 245,245 260,220C275,195 285,170 300,150C315,130 328,112 350,100C372,88 405,80 430,80C455,80 483,87 500,100C517,113 527,138 530,160C533,182 527,208 520,230C513,252 502,272 490,290C478,308 465,325 450,340C435,355 418,370 400,380C382,390 360,397 340,400C320,403 300,393 280,400C260,407 238,427 220,440C202,453 183,475 170,480C157,485 140,487 140,470Z"/>
<path fill="#fff68f" d="M330,300C328,285 335,257 340,240C345,223 348,208 360,200C372,192 397,187 410,190C423,193 437,208 440,220C443,232 437,248 430,260C423,272 408,280 400,290C392,300 388,313 380,320C372,327 358,333 350,330C342,327 332,315 330,300Z"/>
<path fill="#63b8ff" d="M590,-40C590,-40 622,38 640,60C658,82 677,80 700,90C723,100 753,112 780,120C807,128 833,133 860,135C887,137 917,136 940,130C963,124 983,112 1000,100C1017,88 1028,83 1040,60C1052,37 1070,-40 1070,-40L590,-40Z"/>
<path fill="#fff68f" d="M-40,750C-40,750 60,757 100,760C140,763 167,770 200,770C233,770 267,768 300,760C333,752 367,732 400,720C433,708 473,700 500,690C527,680 540,675 560,660C580,645 600,620 620,600C640,580 660,557 680,540C700,523 720,510 740,500C760,490 785,480 800,480C815,480 822,490 830,500C838,510 838,530 850,540C862,550 887,553 900,560C913,567 920,578 930,580C940,582 948,578 960,570C972,562 987,547 1000,530C1013,513 1032,492 1040,470C1048,448 1047,423 1050,400C1053,377 1052,345 1060,330C1068,315 1088,308 1100,310C1112,312 1122,328 1130,340C1138,352 1138,370 1150,380C1162,390 1185,395 1200,400C1215,405 1225,413 1240,410C1255,407 1275,388 1290,380C1305,372 1315,357 1330,360C1345,363 1363,387 1380,400C1397,413 1415,430 1430,440C1445,450 1462,450 1470,460C1478,470 1488,495 1480,500C1472,505 1440,490 1420,490C1400,490 1378,492 1360,500C1342,508 1325,523 1310,540C1295,557 1285,582 1270,600C1255,618 1237,633 1220,650C1203,667 1185,682 1170,700C1155,718 1142,740 1130,760C1118,780 1103,800 1100,820C1097,840 1105,860 1110,880C1115,900 1132,923 1130,940C1128,957 1108,963 1100,980C1092,997 1082,1020 1080,1040C1078,1060 1085,1080 1090,1100C1095,1120 1098,1143 1110,1160C1122,1177 1142,1187 1160,1200C1178,1213 1205,1227 1220,1240C1235,1253 1253,1272 1250,1280C1247,1288 1220,1287 1200,1290C1180,1293 1145,1292 1130,1300C1115,1308 1115,1323 1110,1340C1105,1357 1100,1400 1100,1400L-40,1400L-40,750Z"/>
<path fill="#f0ffff" d="M570,1400C570,1400 582,1345 600,1330C618,1315 653,1317 680,1310C707,1303 740,1292 760,1290C780,1288 790,1292 800,1300C810,1308 803,1332 820,1340C837,1348 880,1340 900,1350C920,1360 940,1400 940,1400L570,1400Z"/>
<path fill="#ffc125" d="M-40,858C-40,858 60,866 100,870C140,874 167,878 200,880C233,882 267,882 300,880C333,878 372,870 400,870C428,870 452,872 470,880C488,888 501,903 510,920C519,937 523,960 525,980C527,1000 528,1022 520,1040C512,1058 490,1072 480,1090C470,1108 467,1128 460,1150C453,1172 447,1197 440,1220C433,1243 430,1270 420,1290C410,1310 395,1322 380,1340C365,1358 330,1400 330,1400L-40,1400L-40,858Z"/>
<path fill="#ffa500" d="M-40,1075C-40,1075 60,1080 100,1080C140,1080 172,1075 200,1075C228,1075 254,1074 270,1080C286,1086 293,1097 295,1110C297,1123 288,1142 280,1160C272,1178 267,1203 250,1220C233,1237 205,1248 180,1260C155,1272 137,1283 100,1290C63,1297 -40,1300 -40,1300L-40,1075Z"/>
<path fill="#bfefff" d="M1700,720C1700,720 1598,743 1580,760C1562,777 1593,800 1590,820C1587,840 1572,862 1560,880C1548,898 1533,917 1520,930C1507,943 1497,950 1480,960C1463,970 1433,978 1420,990C1407,1002 1398,1015 1400,1030C1402,1045 1425,1060 1430,1080C1435,1100 1425,1127 1430,1150C1435,1173 1448,1197 1460,1220C1472,1243 1488,1260 1500,1290C1512,1320 1530,1400 1530,1400L1700,1400L1700,720Z"/>
<path fill="#63b8ff" d="M1530,1010C1533,1000 1550,997 1560,1000C1570,1003 1580,1017 1590,1030C1600,1043 1620,1080 1620,1080L1620,1180C1620,1180 1583,1120 1570,1100C1557,1080 1547,1075 1540,1060C1533,1045 1527,1020 1530,1010Z"/>
</svg>
<svg x="167.20" y="952.70" width="432.7" height="368" viewBox="19.06 17.23 1586.24 1349.06" preserveAspectRatio="none">
<rect x="0" y="0" width="1700" height="1400" fill="#f0ffff"/>
<path fill="#bfefff" d="M-40,460C-40,460 53,443 80,450C107,457 103,485 120,500C137,515 157,535 180,540C203,545 233,535 260,530C287,525 318,518 340,510C362,502 380,493 390,480C400,467 388,442 400,430C412,418 438,415 460,410C482,405 510,407 530,400C550,393 558,378 580,370C602,362 632,352 660,350C688,348 718,355 750,360C782,365 825,370 850,380C875,390 878,417 900,420C922,423 950,408 980,400C1010,392 1047,378 1080,370C1113,362 1150,350 1180,350C1210,350 1242,358 1260,370C1278,382 1278,402 1290,420C1302,438 1317,460 1330,480C1343,500 1360,517 1370,540C1380,563 1388,593 1390,620C1392,647 1387,673 1380,700C1373,727 1360,755 1350,780C1340,805 1327,827 1320,850C1313,873 1308,898 1310,920C1312,942 1332,963 1330,980C1328,997 1313,1007 1300,1020C1287,1033 1267,1048 1250,1060C1233,1072 1213,1078 1200,1090C1187,1102 1173,1113 1170,1130C1167,1147 1173,1170 1180,1190C1187,1210 1205,1230 1210,1250C1215,1270 1208,1285 1210,1310C1212,1335 1220,1400 1220,1400L1700,1400L1700,-40L-40,-40L-40,460Z"/>
<path fill="#f0ffff" d="M150,430C150,412 182,362 200,330C218,298 238,268 260,240C282,212 307,180 330,160C353,140 378,126 400,120C422,114 443,117 460,125C477,133 493,151 500,170C507,189 505,218 500,240C495,262 483,283 470,300C457,317 437,328 420,340C403,352 388,363 370,370C352,377 328,373 310,380C292,387 278,400 260,410C242,420 218,437 200,440C182,443 150,448 150,430Z"/>
<path fill="#63b8ff" d="M-40,-40L110,-40C110,-40 83,20 70,40C57,60 48,70 30,80C12,90 -40,100 -40,100L-40,-40Z"/>
<path fill="#63b8ff" d="M750,-40C750,-40 780,40 790,70C800,100 803,120 810,140C817,160 818,179 830,190C842,201 860,203 880,205C900,207 932,204 950,200C968,196 980,190 990,180C1000,170 998,152 1010,140C1022,128 1042,118 1060,110C1078,102 1102,98 1120,90C1138,82 1158,82 1170,60C1182,38 1195,-40 1195,-40L750,-40Z"/>
<path fill="#fff68f" d="M-40,680C-40,680 60,694 100,700C140,706 167,712 200,715C233,718 267,717 300,715C333,713 373,704 400,705C427,706 442,711 460,720C478,729 497,745 510,760C523,775 527,795 540,810C553,825 570,842 590,850C610,858 638,860 660,860C682,860 700,848 720,850C740,852 758,865 780,870C802,875 830,873 850,880C870,887 888,897 900,910C912,923 925,948 920,960C915,972 887,973 870,980C853,987 833,990 820,1000C807,1010 800,1028 790,1040C780,1052 772,1063 760,1070C748,1077 723,1073 720,1080C717,1087 728,1102 740,1110C752,1118 778,1120 790,1130C802,1140 812,1158 810,1170C808,1182 795,1195 780,1200C765,1205 740,1198 720,1200C700,1202 677,1202 660,1210C643,1218 630,1235 620,1250C610,1265 600,1275 600,1300C600,1325 620,1400 620,1400L-40,1400L-40,680Z"/>
<path fill="#f0ffff" d="M540,1180C540,1170 547,1157 560,1150C573,1143 605,1137 620,1140C635,1143 652,1158 650,1170C648,1182 625,1203 610,1210C595,1217 572,1215 560,1210C548,1205 540,1190 540,1180Z"/>
<path fill="#ffc125" d="M-40,845C-40,845 33,842 60,850C87,858 97,875 120,890C143,905 173,925 200,940C227,955 255,967 280,980C305,993 328,1005 350,1020C372,1035 395,1052 410,1070C425,1088 435,1108 440,1130C445,1152 445,1177 440,1200C435,1223 422,1250 410,1270C398,1290 387,1307 370,1320C353,1333 328,1337 310,1350C292,1363 260,1400 260,1400L-40,1400L-40,845Z"/>
<path fill="#ffa500" d="M-40,1030C-40,1030 31,1047 50,1060C69,1073 73,1093 75,1110C77,1127 79,1147 60,1160C41,1173 -40,1190 -40,1190L-40,1030Z"/>
<path fill="#63b8ff" d="M1700,920C1700,920 1593,935 1560,940C1527,945 1515,942 1500,950C1485,958 1482,978 1470,990C1458,1002 1443,1007 1430,1020C1417,1033 1395,1055 1390,1070C1385,1085 1393,1097 1400,1110C1407,1123 1420,1135 1430,1150C1440,1165 1452,1182 1460,1200C1468,1218 1482,1240 1480,1260C1478,1280 1457,1297 1450,1320C1443,1343 1440,1400 1440,1400L1700,1400L1700,920Z"/>
<path fill="#3a5fcd" d="M1700,985C1700,985 1575,998 1540,1000C1505,1002 1503,995 1490,1000C1477,1005 1462,1018 1460,1030C1458,1042 1470,1060 1480,1070C1490,1080 1507,1080 1520,1090C1533,1100 1550,1115 1560,1130C1570,1145 1557,1167 1580,1180C1603,1193 1700,1210 1700,1210L1700,985Z"/>
</svg>
<svg x="610.20" y="952.70" width="432.7" height="368" viewBox="19.06 17.23 1586.24 1349.06" preserveAspectRatio="none">
<rect x="0" y="0" width="1700" height="1400" fill="#f0ffff"/>
<path fill="#bfefff" d="M-40,-40L560,-40C560,-40 527,22 500,40C473,58 430,58 400,70C370,82 338,93 320,110C302,127 303,152 290,170C277,188 258,205 240,220C222,235 200,245 180,260C160,275 135,290 120,310C105,330 97,357 90,380C83,403 85,427 80,450C75,473 80,505 60,520C40,535 -40,540 -40,540L-40,-40Z"/>
<path fill="#63b8ff" d="M-40,-40L70,-40C70,-40 97,33 100,60C103,87 98,102 90,120C82,138 72,158 50,170C28,182 -40,195 -40,195L-40,-40Z"/>
<path fill="#bfefff" d="M140,540C140,527 147,503 160,490C173,477 202,464 220,460C238,456 259,458 270,465C281,472 287,488 285,500C283,512 274,528 260,540C246,552 217,565 200,570C183,575 170,575 160,570C150,565 140,553 140,540Z"/>
<path fill="#fff68f" d="M320,300C320,289 323,272 330,260C337,248 345,238 360,230C375,222 403,212 420,210C437,208 455,212 460,220C465,228 458,250 450,260C442,270 420,272 410,280C400,288 398,302 390,310C382,318 370,328 360,330C350,332 337,330 330,325C323,320 320,311 320,300Z"/>
<path fill="#fff68f" d="M-40,750C-40,750 47,763 80,770C113,777 133,787 160,790C187,793 215,793 240,790C265,787 290,782 310,770C330,758 345,738 360,720C375,702 385,680 400,660C415,640 433,617 450,600C467,583 485,573 500,560C515,547 527,533 540,520C553,507 565,487 580,480C595,473 612,475 630,480C648,485 675,497 690,510C705,523 717,542 720,560C723,578 715,600 710,620C705,640 690,660 690,680C690,700 698,722 710,740C722,758 742,775 760,790C778,805 800,818 820,830C840,842 858,852 880,860C902,868 925,875 950,880C975,885 1015,882 1030,890C1045,898 1047,918 1040,930C1033,942 1003,948 990,960C977,972 975,992 960,1000C945,1008 920,1005 900,1010C880,1015 858,1022 840,1030C822,1038 803,1052 790,1060C777,1068 758,1072 760,1080C762,1088 785,1097 800,1110C815,1123 845,1145 850,1160C855,1175 842,1192 830,1200C818,1208 802,1210 780,1210C758,1210 723,1197 700,1200C677,1203 657,1218 640,1230C623,1242 608,1255 600,1270C592,1285 590,1298 590,1320C590,1342 600,1400 600,1400L-40,1400L-40,750Z"/>
<path fill="#f0ffff" d="M530,1180C540,1167 547,1153 560,1150C573,1147 598,1153 610,1160C622,1167 633,1182 630,1190C627,1198 605,1205 590,1210C575,1215 552,1212 540,1220C528,1228 527,1258 520,1260C513,1262 498,1243 500,1230C502,1217 520,1193 530,1180Z"/>
<path fill="#ffc125" d="M-40,945C-40,945 48,952 80,960C112,968 127,978 150,990C173,1002 197,1020 220,1030C243,1040 270,1050 290,1050C310,1050 325,1037 340,1030C355,1023 370,1007 380,1010C390,1013 398,1032 400,1050C402,1068 398,1095 395,1120C392,1145 391,1175 385,1200C379,1225 372,1248 360,1270C348,1292 327,1315 310,1330C293,1345 277,1348 260,1360C243,1372 210,1400 210,1400L-40,1400L-40,945Z"/>
<path fill="#fff68f" d="M1180,400C1188,383 1202,372 1220,360C1238,348 1265,333 1290,330C1315,327 1343,337 1370,340C1397,343 1425,345 1450,350C1475,355 1503,362 1520,370C1537,378 1547,385 1550,400C1553,415 1545,440 1540,460C1535,480 1535,503 1520,520C1505,537 1470,548 1450,560C1430,572 1413,578 1400,590C1387,602 1383,622 1370,630C1357,638 1335,643 1320,640C1305,637 1293,622 1280,610C1267,598 1255,585 1240,570C1225,555 1201,538 1190,520C1179,502 1177,480 1175,460C1173,440 1172,417 1180,400Z"/>
<path fill="#bfefff" d="M1700,770C1700,770 1583,785 1540,790C1497,795 1460,794 1440,800C1420,806 1413,818 1420,825C1427,832 1433,836 1480,840C1527,844 1700,850 1700,850L1700,770Z"/>
<path fill="#bfefff" d="M1700,940C1700,940 1550,952 1500,960C1450,968 1427,982 1400,990C1373,998 1358,1000 1340,1010C1322,1020 1293,1038 1290,1050C1287,1062 1322,1072 1320,1080C1318,1088 1297,1095 1280,1100C1263,1105 1225,1098 1220,1110C1215,1122 1248,1152 1250,1170C1252,1188 1228,1202 1230,1220C1232,1238 1253,1260 1260,1280C1267,1300 1270,1320 1270,1340C1270,1360 1260,1400 1260,1400L1700,1400L1700,940Z"/>
<path fill="#63b8ff" d="M1700,975C1700,975 1577,986 1540,990C1503,994 1497,993 1480,1000C1463,1007 1450,1018 1440,1030C1430,1042 1418,1058 1420,1070C1422,1082 1438,1090 1450,1100C1462,1110 1480,1117 1490,1130C1500,1143 1508,1160 1510,1180C1512,1200 1508,1230 1500,1250C1492,1270 1465,1275 1460,1300C1455,1325 1470,1400 1470,1400L1700,1400L1700,975Z"/>
</svg>
<svg x="1053.20" y="952.70" width="432.7" height="368" viewBox="19.06 17.23 1586.24 1349.06" preserveAspectRatio="none">
<rect x="0" y="0" width="1700" height="1400" fill="#f0ffff"/>
<path fill="#fff68f" d="M-40,-40L200,-40C200,-40 195,32 190,60C185,88 177,107 170,130C163,153 160,178 150,200C140,222 125,243 110,260C95,277 85,292 60,300C35,308 -40,310 -40,310L-40,-40Z"/>
<path fill="#fff68f" d="M280,-40C280,-40 275,28 270,60C265,92 257,122 250,150C243,178 237,205 230,230C223,255 207,290 210,300C213,310 235,295 250,290C265,285 283,270 300,270C317,270 333,285 350,290C367,295 385,303 400,300C415,297 427,278 440,270C453,262 465,258 480,250C495,242 515,232 530,220C545,208 557,197 570,180C583,163 597,135 610,120C623,105 632,98 650,90C668,82 695,75 720,70C745,65 773,63 800,60C827,57 858,67 880,50C902,33 930,-40 930,-40L280,-40Z"/>
<path fill="#fff68f" d="M-40,730C-40,730 28,732 60,740C92,748 118,770 150,780C182,790 217,797 250,800C283,803 317,802 350,800C383,798 418,795 450,790C482,785 515,778 540,770C565,762 582,752 600,740C618,728 633,715 650,700C667,685 683,668 700,650C717,632 733,610 750,590C767,570 783,550 800,530C817,510 833,488 850,470C867,452 883,433 900,420C917,407 930,395 950,390C970,385 1000,385 1020,390C1040,395 1057,407 1070,420C1083,433 1090,453 1100,470C1110,487 1120,503 1130,520C1140,537 1148,553 1160,570C1172,587 1185,605 1200,620C1215,635 1233,650 1250,660C1267,670 1283,678 1300,680C1317,682 1333,677 1350,670C1367,663 1387,652 1400,640C1413,628 1422,617 1430,600C1438,583 1443,557 1450,540C1457,523 1457,507 1470,500C1483,493 1512,498 1530,500C1548,502 1552,507 1580,510C1608,513 1700,520 1700,520L1700,700C1700,700 1587,708 1560,720C1533,732 1540,753 1540,770C1540,787 1563,805 1560,820C1557,835 1537,850 1520,860C1503,870 1480,873 1460,880C1440,887 1415,890 1400,900C1385,910 1382,927 1370,940C1358,953 1343,967 1330,980C1317,993 1303,1008 1290,1020C1277,1032 1263,1038 1250,1050C1237,1062 1220,1075 1210,1090C1200,1105 1195,1122 1190,1140C1185,1158 1177,1182 1180,1200C1183,1218 1208,1232 1210,1250C1212,1268 1192,1285 1190,1310C1188,1335 1200,1400 1200,1400L-40,1400L-40,730Z"/>
<path fill="#ffc125" d="M-40,885C-40,885 30,886 60,890C90,894 113,900 140,910C167,920 197,935 220,950C243,965 263,982 280,1000C297,1018 312,1038 320,1060C328,1082 327,1107 325,1130C323,1153 316,1178 310,1200C304,1222 302,1242 290,1260C278,1278 258,1295 240,1310C222,1325 200,1335 180,1350C160,1365 120,1400 120,1400L-40,1400L-40,885Z"/>
<path fill="#ffc125" d="M410,220C412,212 420,197 430,190C440,183 458,185 470,180C482,175 493,160 500,160C507,160 512,172 510,180C508,188 500,202 490,210C480,218 462,225 450,230C438,235 427,242 420,240C413,238 408,228 410,220Z"/>
<path fill="#ffc125" d="M790,1000C795,992 815,982 830,975C845,968 871,960 880,960C889,960 892,970 885,975C878,980 854,982 840,990C826,998 808,1018 800,1020C792,1022 785,1008 790,1000Z"/>
<path fill="#bfefff" d="M40,480C38,458 50,443 60,430C70,417 85,406 100,400C115,394 133,395 150,395C167,395 182,402 200,400C218,398 238,387 260,380C282,373 307,365 330,360C353,355 382,355 400,350C418,345 427,338 440,330C453,322 467,312 480,300C493,288 507,273 520,260C533,247 543,230 560,220C577,210 598,202 620,200C642,198 670,202 690,210C710,218 727,232 740,250C753,268 767,295 770,320C773,345 768,375 760,400C752,425 733,447 720,470C707,493 697,518 680,540C663,562 640,582 620,600C600,618 583,635 560,650C537,665 507,682 480,690C453,698 430,699 400,700C370,701 333,700 300,695C267,690 230,682 200,670C170,658 142,638 120,620C98,602 83,583 70,560C57,537 42,502 40,480Z"/>
<path fill="#63b8ff" d="M140,510C142,497 162,490 180,480C198,470 225,460 250,450C275,440 305,428 330,420C355,412 378,407 400,400C422,393 442,388 460,380C478,372 493,362 510,350C527,338 543,319 560,310C577,301 595,295 610,295C625,295 640,301 650,310C660,319 670,333 670,350C670,367 660,392 650,410C640,428 623,443 610,460C597,477 583,493 570,510C557,527 547,545 530,560C513,575 492,592 470,600C448,608 425,605 400,605C375,605 347,602 320,600C293,598 265,597 240,590C215,583 187,573 170,560C153,547 138,523 140,510Z"/>
<path fill="#bfefff" d="M1700,930C1700,930 1593,932 1560,935C1527,938 1517,941 1500,950C1483,959 1473,980 1460,990C1447,1000 1428,998 1420,1010C1412,1022 1408,1043 1410,1060C1412,1077 1425,1092 1430,1110C1435,1128 1433,1150 1440,1170C1447,1190 1460,1210 1470,1230C1480,1250 1488,1272 1500,1290C1512,1308 1530,1322 1540,1340C1550,1358 1560,1400 1560,1400L1700,1400L1700,930Z"/>
<path fill="#63b8ff" d="M1575,1040C1577,1033 1594,1023 1600,1030C1606,1037 1610,1080 1610,1080C1610,1080 1596,1077 1590,1070C1584,1063 1573,1047 1575,1040Z"/>
</svg>
<svg x="167.20" y="1328.45" width="432.7" height="368" viewBox="19.06 16.31 1586.24 1349.06" preserveAspectRatio="none">
<rect x="0" y="0" width="1700" height="1400" fill="#fff68f"/>
<path fill="#f0ffff" d="M-40,-40L310,-40C310,-40 282,27 280,50C278,73 295,82 295,100C295,118 288,142 280,160C272,178 260,193 250,210C240,227 231,246 220,260C209,274 197,284 185,296C173,308 160,318 150,330C140,342 122,362 125,370C128,378 152,381 165,381C178,381 190,368 200,371C210,374 213,397 225,401C237,405 258,399 270,396C282,393 287,382 300,381C313,380 333,388 350,391C367,394 383,400 400,401C417,402 437,399 450,396C463,393 468,387 480,381C492,375 503,374 520,360C537,346 563,320 580,300C597,280 607,260 620,240C633,220 643,198 660,180C677,162 697,145 720,130C743,115 773,103 800,90C827,77 855,72 880,50C905,28 950,-40 950,-40L1470,-40C1470,-40 1423,70 1400,110C1377,150 1355,170 1330,200C1305,230 1275,260 1250,290C1225,320 1202,352 1180,380C1158,408 1140,433 1120,460C1100,487 1078,513 1060,540C1042,567 1028,593 1010,620C992,647 972,677 950,700C928,723 905,742 880,760C855,778 827,793 800,810C773,827 747,845 720,860C693,875 667,888 640,900C613,912 587,922 560,930C533,938 507,945 480,950C453,955 430,958 400,960C370,962 333,963 300,965C267,967 233,968 200,970C167,972 140,972 100,975C60,978 -40,985 -40,985L-40,-40Z"/>
<path fill="#fff68f" d="M-40,175C-40,175 32,171 50,175C68,179 62,186 65,200C68,214 67,240 65,260C63,280 61,305 55,320C49,335 46,342 30,350C14,358 -40,365 -40,365L-40,175Z"/>
<path fill="#bfefff" d="M-40,590C-40,590 27,558 50,546C73,534 83,529 100,521C117,513 133,504 150,496C167,488 183,483 200,476C217,469 233,462 250,456C267,450 283,444 300,441C317,438 333,437 350,436C367,435 383,437 400,436C417,435 434,435 451,431C468,427 484,418 501,411C518,404 534,394 551,386C568,378 584,371 601,361C618,351 634,338 651,326C668,314 684,302 701,291C718,280 732,270 751,261C770,252 796,250 814,236C832,222 844,199 860,180C876,161 895,138 910,120C925,102 937,97 950,70C963,43 990,-40 990,-40L1395,-40C1395,-40 1359,65 1340,100C1321,135 1300,148 1280,170C1260,192 1240,208 1220,230C1200,252 1180,275 1160,300C1140,325 1118,355 1100,380C1082,405 1065,427 1050,450C1035,473 1025,495 1010,520C995,545 978,573 960,600C942,627 922,657 900,680C878,703 857,722 830,740C803,758 768,775 740,790C712,805 687,818 660,830C633,842 607,852 580,860C553,868 530,876 500,880C470,884 433,885 400,885C367,885 333,882 300,880C267,878 233,872 200,870C167,868 140,870 100,870C60,870 -40,870 -40,870L-40,590Z"/>
<path fill="#63b8ff" d="M-40,700C-40,700 33,667 60,650C87,633 97,618 120,600C143,582 173,557 200,540C227,523 253,509 280,500C307,491 333,490 360,485C387,480 413,478 440,470C467,462 493,450 520,440C547,430 573,418 600,410C627,402 653,395 680,390C707,385 737,380 760,380C783,380 807,383 820,390C833,397 840,407 840,420C840,433 828,452 820,470C812,488 803,508 790,530C777,552 758,580 740,600C722,620 700,633 680,650C660,667 640,685 620,700C600,715 583,730 560,740C537,750 507,756 480,760C453,764 430,764 400,765C370,766 333,764 300,765C267,766 233,768 200,770C167,772 140,775 100,775C60,775 -40,770 -40,770L-40,700Z"/>
<path fill="#3a5fcd" d="M275,610C277,598 284,580 295,570C306,560 322,556 340,552C358,548 382,547 400,548C418,549 436,552 450,560C464,568 480,583 485,595C490,607 488,620 480,630C472,640 457,649 440,655C423,661 400,664 380,665C360,666 336,664 320,660C304,656 292,648 285,640C278,632 273,622 275,610Z"/>
<path fill="#ffc125" d="M296,286C297,280 304,268 311,261C318,254 333,247 341,241C349,235 354,228 361,226C368,224 373,234 381,231C389,228 401,217 411,210C421,203 429,196 441,190C453,184 471,181 481,175C491,169 494,161 501,155C508,149 516,139 521,140C526,141 531,152 531,160C531,168 525,180 521,190C517,200 511,210 506,220C501,230 498,242 491,251C484,260 473,264 466,271C459,278 455,284 451,291C447,298 445,310 441,316C437,322 428,329 426,326C424,323 428,306 431,296C434,286 443,272 441,266C439,260 429,264 421,261C413,258 400,253 391,251C382,249 374,248 366,251C358,254 353,264 346,271C339,278 333,287 326,291C319,295 311,297 306,296C301,295 295,292 296,286Z"/>
<path fill="#ffc125" d="M1700,200C1700,200 1597,238 1560,260C1523,282 1507,307 1480,330C1453,353 1427,378 1400,400C1373,422 1347,438 1320,460C1293,482 1265,507 1240,530C1215,553 1193,578 1170,600C1147,622 1120,640 1100,660C1080,680 1067,698 1050,720C1033,742 1017,770 1000,790C983,810 970,825 950,840C930,855 902,870 880,880C858,890 837,890 820,900C803,910 793,927 780,940C767,953 748,967 740,980C732,993 723,1010 730,1020C737,1030 763,1038 780,1040C797,1042 810,1032 830,1030C850,1028 878,1028 900,1030C922,1032 940,1037 960,1040C980,1043 1003,1043 1020,1050C1037,1057 1047,1072 1060,1080C1073,1088 1085,1100 1100,1100C1115,1100 1133,1088 1150,1080C1167,1072 1182,1060 1200,1050C1218,1040 1240,1032 1260,1020C1280,1008 1300,993 1320,980C1340,967 1360,950 1380,940C1400,930 1420,925 1440,920C1460,915 1480,913 1500,910C1520,907 1527,903 1560,900C1593,897 1700,890 1700,890L1700,200Z"/>
<path fill="#ffa500" d="M1700,400C1700,400 1627,423 1600,440C1573,457 1562,480 1540,500C1518,520 1493,542 1470,560C1447,578 1422,593 1400,610C1378,627 1358,643 1340,660C1322,677 1300,695 1290,710C1280,725 1273,740 1280,750C1287,760 1310,767 1330,770C1350,773 1375,768 1400,770C1425,772 1453,777 1480,780C1507,783 1523,787 1560,790C1597,793 1700,800 1700,800L1700,400Z"/>
<path fill="#ffc125" d="M-40,1140C-40,1140 47,1132 80,1130C113,1128 130,1126 160,1125C190,1124 227,1123 260,1125C293,1127 333,1129 360,1135C387,1141 406,1148 420,1160C434,1172 443,1193 445,1210C447,1227 441,1245 430,1260C419,1275 402,1288 380,1300C358,1312 330,1322 300,1330C270,1338 233,1345 200,1350C167,1355 140,1356 100,1360C60,1364 -40,1375 -40,1375L-40,1140Z"/>
<path fill="#f0ffff" d="M1700,975C1700,975 1577,986 1540,990C1503,994 1497,992 1480,1000C1463,1008 1453,1027 1440,1040C1427,1053 1412,1065 1400,1080C1388,1095 1373,1112 1370,1130C1367,1148 1373,1172 1380,1190C1387,1208 1398,1225 1410,1240C1422,1255 1435,1268 1450,1280C1465,1292 1485,1300 1500,1310C1515,1320 1530,1325 1540,1340C1550,1355 1560,1400 1560,1400L1700,1400L1700,975Z"/>
<path fill="#bfefff" d="M1700,1300C1700,1300 1595,1303 1570,1320C1545,1337 1550,1400 1550,1400L1700,1400L1700,1300Z"/>
</svg>
<svg x="610.20" y="1328.45" width="432.7" height="368" viewBox="19.06 16.31 1586.24 1349.06" preserveAspectRatio="none">
<rect x="0" y="0" width="1700" height="1400" fill="#fff68f"/>
<path fill="#f0ffff" d="M-40,620C-40,620 47,623 80,630C113,637 132,650 160,660C188,670 218,683 250,690C282,697 317,695 350,700C383,705 420,713 450,720C480,727 505,732 530,740C555,748 578,758 600,770C622,782 640,798 660,810C680,822 697,833 720,840C743,847 773,847 800,850C827,853 853,860 880,860C907,860 935,857 960,850C985,843 1007,832 1030,820C1053,808 1077,793 1100,780C1123,767 1147,753 1170,740C1193,727 1217,713 1240,700C1263,687 1287,675 1310,660C1333,645 1358,627 1380,610C1402,593 1422,578 1440,560C1458,542 1475,522 1490,500C1505,478 1518,455 1530,430C1542,405 1552,377 1560,350C1568,323 1575,298 1580,270C1585,242 1590,208 1590,180C1590,152 1585,137 1580,100C1575,63 1560,-40 1560,-40L-40,-40L-40,620Z"/>
<path fill="#fff68f" d="M440,-40C440,-40 453,32 460,60C467,88 480,107 480,130C480,153 467,177 460,200C453,223 447,248 440,270C433,292 417,323 420,330C423,337 443,320 460,310C477,300 500,285 520,270C540,255 563,237 580,220C597,203 607,187 620,170C633,153 648,138 660,120C672,102 683,87 690,60C697,33 700,-40 700,-40L440,-40Z"/>
<path fill="#fff68f" d="M60,70C67,55 82,45 90,50C98,55 108,78 110,100C112,122 107,163 100,180C93,197 78,207 70,200C62,193 52,162 50,140C48,118 53,85 60,70Z"/>
<path fill="#bfefff" d="M-40,250C-40,250 50,233 80,220C110,207 120,185 140,170C160,155 178,138 200,130C222,122 248,115 270,120C292,125 312,155 330,160C348,165 368,143 380,150C392,157 400,182 400,200C400,218 390,243 380,260C370,277 353,285 340,300C327,315 300,338 300,350C300,362 323,365 340,370C357,375 380,383 400,380C420,377 440,362 460,350C480,338 500,323 520,310C540,297 560,285 580,270C600,255 620,238 640,220C660,202 682,182 700,160C718,138 735,123 750,90C765,57 790,-40 790,-40L1370,-40C1370,-40 1388,28 1400,50C1412,72 1428,73 1440,90C1452,107 1463,128 1470,150C1477,172 1482,195 1480,220C1478,245 1468,275 1460,300C1452,325 1442,348 1430,370C1418,392 1407,410 1390,430C1373,450 1350,472 1330,490C1310,508 1292,523 1270,540C1248,557 1225,575 1200,590C1175,605 1147,617 1120,630C1093,643 1067,658 1040,670C1013,682 987,692 960,700C933,708 907,713 880,720C853,727 827,737 800,740C773,743 747,745 720,740C693,735 667,722 640,710C613,698 587,682 560,670C533,658 510,648 480,640C450,632 413,627 380,620C347,613 310,608 280,600C250,592 223,582 200,570C177,558 160,542 140,530C120,518 110,507 80,500C50,493 -40,490 -40,490L-40,250Z"/>
<path fill="#f0ffff" d="M130,440C125,427 140,385 150,360C160,335 177,312 190,290C203,268 218,247 230,230C242,213 250,190 260,190C270,190 287,213 290,230C293,247 285,272 280,290C275,308 260,325 260,340C260,355 283,368 280,380C277,392 257,400 240,410C223,420 198,435 180,440C162,445 135,453 130,440Z"/>
<path fill="#63b8ff" d="M530,440C534,427 547,407 560,390C573,373 590,355 610,340C630,325 655,312 680,300C705,288 733,278 760,270C787,262 817,262 840,250C863,238 887,220 900,200C913,180 915,153 920,130C925,107 923,88 930,60C937,32 960,-40 960,-40L1230,-40C1230,-40 1263,35 1280,60C1297,85 1318,92 1330,110C1342,128 1350,152 1350,170C1350,188 1343,210 1330,220C1317,230 1288,225 1270,230C1252,235 1235,238 1220,250C1205,262 1190,282 1180,300C1170,318 1168,340 1160,360C1152,380 1143,405 1130,420C1117,435 1098,447 1080,450C1062,453 1040,448 1020,440C1000,432 980,410 960,400C940,390 918,377 900,380C882,383 865,403 850,420C835,437 823,460 810,480C797,500 785,523 770,540C755,557 738,575 720,580C702,585 680,575 660,570C640,565 617,560 600,550C583,540 571,523 560,510C549,497 540,482 535,470C530,458 526,453 530,440Z"/>
<path fill="#63b8ff" d="M250,490C252,481 265,470 280,465C295,460 320,459 340,460C360,461 387,463 400,470C413,477 422,491 420,500C418,509 405,520 390,525C375,530 350,531 330,530C310,529 283,527 270,520C257,513 248,499 250,490Z"/>
<path fill="#ffc125" d="M-40,870C-40,870 35,835 60,820C85,805 90,790 110,780C130,770 155,763 180,760C205,757 232,758 260,760C288,762 322,765 350,770C378,775 405,780 430,790C455,800 478,815 500,830C522,845 543,865 560,880C577,895 590,903 600,920C610,937 620,960 620,980C620,1000 610,1023 600,1040C590,1057 565,1067 560,1080C555,1093 573,1110 570,1120C567,1130 552,1138 540,1140C528,1142 512,1125 500,1130C488,1135 478,1153 470,1170C462,1187 457,1210 450,1230C443,1250 438,1272 430,1290C422,1308 410,1322 400,1340C390,1358 370,1400 370,1400L-40,1400L-40,870Z"/>
<path fill="#ffa500" d="M150,960C152,940 158,915 170,900C182,885 202,877 220,870C238,863 258,858 280,860C302,862 328,870 350,880C372,890 395,903 410,920C425,937 437,958 440,980C443,1002 437,1030 430,1050C423,1070 415,1085 400,1100C385,1115 362,1132 340,1140C318,1148 290,1152 270,1150C250,1148 235,1142 220,1130C205,1118 191,1098 180,1080C169,1062 160,1040 155,1020C150,1000 148,980 150,960Z"/>
<path fill="#f0ffff" d="M690,1150C695,1135 705,1125 720,1110C735,1095 760,1075 780,1060C800,1045 820,1028 840,1020C860,1012 880,1007 900,1010C920,1013 942,1028 960,1040C978,1052 997,1065 1010,1080C1023,1095 1033,1112 1040,1130C1047,1148 1050,1170 1050,1190C1050,1210 1048,1233 1040,1250C1032,1267 1015,1280 1000,1290C985,1300 962,1300 950,1310C938,1320 937,1335 930,1350C923,1365 910,1400 910,1400L830,1400C830,1400 820,1358 810,1340C800,1322 785,1307 770,1290C755,1273 733,1255 720,1240C707,1225 695,1215 690,1200C685,1185 685,1165 690,1150Z"/>
<path fill="#ffc125" d="M1700,330C1700,330 1597,355 1570,370C1543,385 1552,403 1540,420C1528,437 1515,455 1500,470C1485,485 1465,495 1450,510C1435,525 1422,542 1410,560C1398,578 1390,600 1380,620C1370,640 1362,660 1350,680C1338,700 1320,720 1310,740C1300,760 1288,783 1290,800C1292,817 1305,830 1320,840C1335,850 1363,852 1380,860C1397,868 1407,878 1420,890C1433,902 1443,923 1460,930C1477,937 1503,935 1520,930C1537,925 1530,908 1560,900C1590,892 1700,880 1700,880L1700,330Z"/>
<path fill="#ffa500" d="M1700,550C1700,550 1580,568 1550,580C1520,592 1523,605 1520,620C1517,635 1522,657 1530,670C1538,683 1542,692 1570,700C1598,708 1700,715 1700,715L1700,550Z"/>
<path fill="#f0ffff" d="M1700,1240C1700,1240 1582,1252 1540,1260C1498,1268 1475,1280 1450,1290C1425,1300 1398,1302 1390,1320C1382,1338 1400,1400 1400,1400L1700,1400L1700,1240Z"/>
</svg>
<svg x="1053.20" y="1328.45" width="432.7" height="368" viewBox="19.06 16.31 1586.24 1349.06" preserveAspectRatio="none">
<rect x="0" y="0" width="1700" height="1400" fill="#fff68f"/>
<path fill="#f0ffff" d="M-40,1040C-40,1040 60,1040 100,1040C140,1040 167,1043 200,1040C233,1037 267,1028 300,1020C333,1012 367,1000 400,990C433,980 467,970 500,960C533,950 567,940 600,930C633,920 670,908 700,900C730,892 753,887 780,880C807,873 833,866 860,860C887,854 913,848 940,845C967,842 997,838 1020,840C1043,842 1067,850 1080,860C1093,870 1098,885 1100,900C1102,915 1090,935 1090,950C1090,965 1102,978 1100,990C1098,1002 1097,1012 1080,1020C1063,1028 1022,1033 1000,1040C978,1047 967,1052 950,1060C933,1068 902,1082 900,1090C898,1098 923,1102 940,1110C957,1118 982,1128 1000,1140C1018,1152 1030,1170 1050,1180C1070,1190 1097,1198 1120,1200C1143,1202 1168,1198 1190,1190C1212,1182 1233,1163 1250,1150C1267,1137 1292,1120 1290,1110C1288,1100 1252,1100 1240,1090C1228,1080 1217,1063 1220,1050C1223,1037 1247,1023 1260,1010C1273,997 1288,985 1300,970C1312,955 1325,938 1330,920C1335,902 1335,877 1330,860C1325,843 1312,832 1300,820C1288,808 1272,803 1260,790C1248,777 1237,758 1230,740C1223,722 1218,700 1220,680C1222,660 1232,640 1240,620C1248,600 1260,582 1270,560C1280,538 1293,513 1300,490C1307,467 1310,443 1310,420C1310,397 1298,372 1300,350C1302,328 1312,308 1320,290C1328,272 1347,258 1350,240C1353,222 1348,198 1340,180C1332,162 1317,143 1300,130C1283,117 1263,107 1240,100C1217,93 1187,90 1160,90C1133,90 1107,99 1080,100C1053,101 1027,95 1000,95C973,95 945,101 920,100C895,99 872,97 850,90C828,83 808,68 790,60C772,52 755,57 740,40C725,23 700,-40 700,-40L-40,-40L-40,1040Z"/>
<path fill="#bfefff" d="M-40,920C-40,920 60,930 100,930C140,930 167,927 200,920C233,913 267,902 300,890C333,878 370,862 400,850C430,838 453,828 480,820C507,812 533,805 560,800C587,795 617,792 640,790C663,788 682,793 700,790C718,787 738,782 750,770C762,758 768,740 770,720C772,700 758,672 760,650C762,628 768,608 780,590C792,572 813,555 830,540C847,525 865,512 880,500C895,488 907,478 920,470C933,462 947,450 960,450C973,450 997,460 1000,470C1003,480 990,498 980,510C970,522 943,530 940,540C937,550 948,563 960,570C972,577 993,582 1010,580C1027,578 1045,568 1060,560C1075,552 1088,543 1100,530C1112,517 1125,498 1130,480C1135,462 1132,440 1130,420C1128,400 1125,378 1120,360C1115,342 1112,323 1100,310C1088,297 1070,288 1050,280C1030,272 1005,267 980,265C955,263 927,266 900,270C873,274 847,283 820,290C793,297 767,305 740,310C713,315 687,317 660,320C633,323 603,325 580,330C557,335 540,342 520,350C500,358 477,382 460,380C443,378 433,353 420,340C407,327 388,315 380,300C372,285 368,267 370,250C372,233 380,215 390,200C400,185 415,172 430,160C445,148 465,138 480,130C495,122 517,118 520,110C523,102 513,87 500,80C487,73 460,73 440,70C420,67 398,65 380,60C362,55 343,57 330,40C317,23 300,-40 300,-40L-40,-40L-40,920Z"/>
<path fill="#63b8ff" d="M-40,830C-40,830 60,838 100,840C140,842 172,845 200,840C228,835 247,822 270,810C293,798 318,782 340,770C362,758 380,748 400,740C420,732 440,728 460,720C480,712 503,702 520,690C537,678 552,665 560,650C568,635 572,617 570,600C568,583 558,565 550,550C542,535 530,523 520,510C510,497 503,482 490,470C477,458 458,447 440,440C422,433 400,433 380,430C360,427 335,425 320,420C305,415 300,407 290,400C280,393 270,388 260,380C250,372 237,363 230,350C223,337 218,317 220,300C222,283 232,267 240,250C248,233 262,217 270,200C278,183 288,167 290,150C292,133 285,115 280,100C275,85 270,70 260,60C250,50 230,57 220,40C210,23 200,-40 200,-40L-40,-40L-40,830Z"/>
<path fill="#bfefff" d="M-40,-40L200,-40C200,-40 215,8 210,30C205,52 187,70 170,90C153,110 130,133 110,150C90,167 75,180 50,190C25,200 -40,210 -40,210L-40,-40Z"/>
<path fill="#3a5fcd" d="M-40,300C-40,300 35,288 60,280C85,272 93,257 110,250C127,243 145,240 160,240C175,240 195,240 200,250C205,260 197,283 190,300C183,317 168,333 160,350C152,367 142,383 140,400C138,417 140,438 150,450C160,462 182,468 200,470C218,472 240,463 260,465C280,467 303,472 320,480C337,488 348,497 360,510C372,523 385,543 390,560C395,577 393,593 390,610C387,627 380,645 370,660C360,675 345,687 330,700C315,713 298,728 280,740C262,752 242,763 220,770C198,777 172,780 150,780C128,780 108,777 90,770C72,763 62,748 40,740C18,732 -40,720 -40,720L-40,300Z"/>
<path fill="#00008b" d="M165,575C166,568 169,559 175,555C181,551 192,548 200,550C208,552 220,558 225,565C230,572 232,583 230,590C228,597 222,602 215,605C208,608 198,607 190,605C182,603 174,600 170,595C166,590 164,582 165,575Z"/>
<path fill="#ffc125" d="M1400,-40C1400,-40 1427,75 1440,110C1453,145 1470,148 1480,170C1490,192 1498,217 1500,240C1502,263 1497,287 1490,310C1483,333 1470,358 1460,380C1450,402 1438,418 1430,440C1422,462 1413,487 1410,510C1407,533 1407,558 1410,580C1413,602 1418,623 1430,640C1442,657 1462,668 1480,680C1498,692 1503,698 1540,710C1577,722 1700,750 1700,750L1700,-40L1400,-40Z"/>
<path fill="#ffa500" d="M1700,360C1700,360 1595,383 1570,400C1545,417 1553,440 1550,460C1547,480 1547,502 1550,520C1553,538 1545,557 1570,570C1595,583 1700,600 1700,600L1700,360Z"/>
<path fill="#ffc125" d="M1410,1000C1412,992 1428,973 1440,960C1452,947 1467,925 1480,920C1493,915 1517,922 1520,930C1523,938 1510,960 1500,970C1490,980 1472,984 1460,990C1448,996 1438,1003 1430,1005C1422,1007 1408,1008 1410,1000Z"/>
<path fill="#ffc125" d="M-40,1140C-40,1140 60,1148 100,1150C140,1152 167,1153 200,1150C233,1147 267,1138 300,1130C333,1122 370,1108 400,1100C430,1092 453,1088 480,1085C507,1082 535,1082 560,1085C585,1088 612,1092 630,1100C648,1108 660,1118 665,1130C670,1142 654,1159 660,1170C666,1181 683,1187 700,1195C717,1203 738,1212 760,1220C782,1228 808,1231 830,1240C852,1249 870,1263 890,1275C910,1287 930,1299 950,1310C970,1321 992,1325 1010,1340C1028,1355 1060,1400 1060,1400L-40,1400L-40,1140Z"/>
<path fill="#f0ffff" d="M1700,1260C1700,1260 1597,1272 1570,1280C1543,1288 1542,1290 1540,1310C1538,1330 1560,1400 1560,1400L1700,1400L1700,1260Z"/>
</svg>
<pattern id="geo" patternUnits="userSpaceOnUse" x="167.2" y="201.2" width="443" height="375.75">
<svg x="0" y="0" width="432.7" height="368" viewBox="0 0 432.7 368">
<path fill="none" stroke="#3a3a32" stroke-opacity=".8" stroke-width="1" stroke-linejoin="round" d="M252.3,95.1L250.9,101.9L253.8,105.3L256.5,108.7L257.7,115.6L260.5,119.1L263.3,122.4L267.3,127.2M231.8,108.8L237.3,112.8L241.4,118.3L243.8,122.3L245.5,126.6M231.8,108.8L227.7,114.2L225.6,117.6L223.6,121L222.3,125.3L220.3,129.3M231.8,108.8L235.2,106.7L238.7,104.7L241.7,102.2L244.1,99.2L249.6,96.4L252.3,95.1M432.8,89.6L428.7,89.3L424.6,88.9L422,91.5L419.1,93.7L417.6,97.3L416.1,100.9L415,104.6L413.6,108.7L412.3,112.9L410.4,116.4L408.2,119.7L404,123.8L409.6,126.5L412.3,132L415.6,133.6L419.1,134.7L421.2,137.4L417.8,143L414.3,144.3L410.9,145.7L405.4,149.7L401.8,153L398.5,156.5L393.2,158L389.8,159.6L386.3,160.8L383.6,163.4L380.8,166.1L379.5,173L376.8,178.5L375.4,185.3M130.1,298.8L137,298.7L142.4,300.1L141,305.6L137,311.1L135.6,317.9L137,323.4L134.3,328.9L132.9,330.3M168.4,289.2L172,291L175.3,293.2L179.3,294.3L183.4,294.7L187.4,296.3L191.7,297.3M164.3,346.6L165.8,353.4L167.1,360.3L169.1,367.1M157.5,367.1L161.3,366.8L165.2,367L169.1,367.1M186.2,237.9L191.6,240L195,242.8L198.5,245.4L205.3,246.8L210.8,249.5L213.6,253.6L216.7,256.5M193.7,231.8L198.5,233.1L204,234.4L205.4,240L205.3,246.8M205.3,219.5L206.6,226.3L205.1,230.3L204,234.5M213.5,253.6L212.2,260.5L208.1,264.7L206.7,270L212.1,272.8L210.8,278.3L213.5,283.7M234.6,214L236,220.8L237,224.4L238.6,227.7L241.4,233.2M241.4,233.1L248.2,234.6L252.3,236.7L256.5,238.6L260.5,237.6L264.6,237.2L268.8,236.8L272.8,235.8L278.3,236.5M278.3,236.6L279.6,231.4L281,226.3L279.5,221.6L278.3,216.8L277.1,212.6L275.6,208.5L274.1,205.2L272.9,201.7L268.7,200.3L264.7,198.9L257.8,198.9M272.8,201.7L278.3,197.5L279.7,192.1L276.9,188L279.7,185.3M275.6,208.5L279.1,210.5L282.4,212.7L286.5,212L290.6,211.2L294.8,210.9L298.8,209.8L305.7,208.6L307,203.1L305.3,199.8L304.2,196.3L307.1,192.2L306,188.6L304.2,185.3M278.3,216.7L283.1,215.7L287.9,214.7L291.6,213.8L295.1,212.2L298.8,211.3M278.3,236.6L281.8,238.2L285.1,240L289.2,239.1L293.4,238.7L296.7,235.7L300.2,233.1L307,232.5L312.5,235.9L315.3,239.9L316.6,245.5L318.7,249.5M300.2,233.1L302.8,236L305.6,238.6L308.2,241.5L311.1,244.1L315.2,249.5M256.4,238.6L257.8,245.4L261.9,249.5L268.8,248.3L272.7,245.8L277,244.2L277.3,240.3L278.3,236.6M257.8,245.4L256.6,249.6L255,253.6L256.4,259.1L259.9,261.1L263.2,263.3L266.6,261.7L270.1,260.5L273.5,257.8L277,255.1L279.7,249.6L277,244.1M231.8,240L237.3,235.9L241.4,233.1M231.8,240L234.6,245.4L238.6,249.6L237.3,255L233.8,256.2L230.5,257.8L223.6,259.8L216.8,260.4M238.7,249.5L242.8,248.2L246.9,246.7L251,246.8L255.1,246.9L257.8,245.4M237.3,255L240.8,256.9L244.2,259.1L248.2,259.3L252.3,259.2L256.4,259M401.3,267.3L403,270.9L404.3,274.5L405.5,278.2L406.3,281.9L407.5,285.5L408.2,289.2L406.4,294.1L404,298.7L399.9,304.2L397.5,307.8L394.4,311L390.4,312.5L388.4,317.3L386.2,322M408.2,305.6L411.9,305.4L415.5,304.9L419.1,304.2L423.6,303.5L428.2,303.4L432.8,302.8M400,304.2L404.1,304.7L408.2,305.6M404.1,313.8L406.5,317.7L408.2,322L409.3,325.7L410.8,329.3L412.3,332.9L414.2,337.8L416.4,342.5L413.7,346.6L409.6,345.8L405.4,345.3L400.6,346.4L395.9,347.9M395.9,342.5L400,344.7L404,347.1L408.2,349.4L411.9,351.1L415.6,352.8L419.1,354.8L423.6,356L428.2,356.8L432.8,357.6M333,343.9L334.1,348.1L335.7,352.1L337,356.9L338.5,361.6L341.2,367.8M383.6,327.5L385.5,331.6L387.7,335.6L389.8,339.1L391.7,342.5L395.8,348M220,127.3L219.3,131.7L218.6,136.2L219.2,140.6L220.1,145L217.1,146.5L214.9,149.5L214.1,153.9L215.6,158.3L217,162.8L219.3,165.7L220.1,170.2L218.5,174.6L217.2,179.1L215.6,180.5M205.3,219.7L206.1,223.3L206.7,230.3M235.6,213L236.3,217.4L237.9,221.9L239.3,226.3L240.7,230.3M273.2,154.6L274.7,159.8L275.4,164.3L276.3,169.4L277.6,173.9L280.7,177.5L283.6,182L289.8,183.5M265.9,182L268.8,179L273.2,176L277.7,176.1L280.6,177.6M259.2,188.6L262.9,187.2L268.8,186.4L274.7,186.4L279.2,187.8L282.1,189.5M283.6,182L282.8,186.4L282.1,189.4L280.7,193.8L279.9,198.2L278.3,201.1L274.7,202.6L271.8,203.4M258.5,199.7L262.9,197.5L266.6,198.2L268.8,201.2L271.8,203.4L274,207.1L275.4,211.5L276.1,216L278.4,219L280.7,223.3L281.5,227L279.9,230.3M255.5,204.9L258.5,202.7L262.9,201.2L266.6,198.3M278.4,218.9L282.2,214.5L286.5,212.9L289.8,212.3M273.2,154.6L274.8,149.5L276.3,143.6L277,137.6L274.7,134.7L271.1,133.1L268.9,130.2L265.9,127.3M224.8,331.5L224.7,336L226.2,340.4L225.5,344.8L224.1,350.3M214.4,283.5L212.2,282.1L210.7,276.9L210,271.7L207.7,269.5L204.8,268.7M210,271.7L213.7,270.9L216.6,267.3L221.1,268.7L224,265.8L223.3,262.1L219.6,259.8L215.9,259.2L212.2,259.8L209.3,262.8L207.7,266.5L204.9,268.8M224,265.8L228.5,264.4L232.9,262.2L236.6,262.8L241,264.3L241.7,267.3L241,268.7M212.2,259.9L212.8,254.7L212.3,250.2L213.6,247.3M215.9,259.1L219.5,257.8L223.3,256.8L229.2,257.6L234.3,258.4L237.3,256.1L236.5,253.2L238.8,249.5L240.2,247.3M237.3,256.2L243.3,259.8L247.7,261.4L252.1,259.9L254.3,258.4L255.1,254.7L254.2,251L255.9,247.3M241,264.3L246.2,263.6L250.6,262L254.3,258.3M254.3,258.4L258,261.3L262.4,262.8L266.9,262L269.8,260.5L274.3,259.1L277.2,256.8L278.7,253.2L279.5,249.5L278.6,247.3M253.6,270.2L256.5,268.7L261,268L265.4,268.7L269.8,268.1L271.4,265.1L269.8,260.6M253.6,270.2L256.5,273.9L259.4,276.9L262.4,279.1L266.9,281.3M271.3,265L272.7,269.5L274.2,273.9L272.8,278.3L272.1,281.3L274.2,279.8L277.2,279.1L280.1,279.9L279.4,282L278.6,284.2M274.3,259.1L278.7,262.1L281.6,265.1L286.1,264.9L288.3,266.5M288.3,266.5L292,268.1L297.2,268.8L302.3,267.2L306.8,265L310.5,262.1L314.1,260.6L317.9,260.6M288.3,266.5L289.7,270.2L291.9,273.9L292.8,278.3L292,279.8M292,279.8L288.3,282.1L285.3,283.5L283.9,286.5L285.3,290.2L288.3,291.7L292,289.4L295.7,287.2L296.4,283.5L294.2,280.6L292,279.7M278.7,284.2L280.9,282L283.9,283.5M285.3,290.2L286.8,294.6L287.6,299L286.1,302M296.4,283.5L300.8,284.3L305.3,282.8L309.7,280.5L311.9,279.8L314.2,276.9M274.3,285L275.7,281.3L278.7,280.5M314.8,198.8L319.3,200.9L323.7,202.4L328.1,205.4L332.5,204.6L336.9,202.4L341.4,202.4L345.8,201.7L351,201.8L351.7,206.2L354,209.1L354.7,212.1L352.5,215.1L350.2,218L354.7,217.2M372.4,237.6L376.9,234.3L381.3,233.5L385.7,232L390.2,231.9L393.9,229.8L397.6,228.3L400.5,227.6L404.9,229.1L409.4,229.9L413.8,228.4L414.6,225.4M385,244.6L388.6,242.3L393.1,241.6L396.8,241.7L399.1,245.3L402,246.8L405.7,246L410.1,246L414.5,246.9L417.5,244.6L418.3,241.6L420.4,238.6L423.4,237.2L425.6,240.2L428.6,241.6L432.3,241.7M396.8,241.6L399.8,238.7L402.8,237.3L405.7,239.4L409.4,241.6L413.1,243L417.5,244.5M405.7,249L409.3,254.2L413.1,258.6L416.8,261.5L421.2,263.7L425.6,265.3L430.1,263.9L432.3,266M413.8,261.6L409.4,263.7L405,266.8L400.6,271.3L396,276.3L392.4,279.3L387.9,280.8L383.5,283L379.9,285.3L376.2,287.5M404.9,266.8L403.5,272.7L404.9,277.1L408.6,282.3L409.4,287.4L406.4,293.4L403.5,297.1L401.3,300.4"/>
<path fill="none" stroke="#1c1c18" stroke-opacity=".9" stroke-width="1.15" stroke-linejoin="round" d="M104.2,129.3L107,125.2L111,123.9L113.7,126.5L117.8,127.8L120.5,128.7L123.3,128.5L126,127.8L128.7,127.1L132.9,129.9L133.9,132.3L134.9,134.7L134.9,137.5L134.2,140.2L130.2,143L127.5,144.5L124.7,145.8L121.3,146.5L117.9,147.1L115,146.8L112.3,145.7L110.1,143.8L108.3,141.6L105.5,138.8L107,134.8L104.2,132L104.2,129.3M191.6,43.1L193.1,40.9L194.6,38.7L195.8,36.4L199,34.6L202.6,33.6L206,34.3L209.4,35L213.5,37.7L216.1,39.3L219,40.4L219.3,43.9L220.3,47.3L218.8,50.6L217.7,54.1L215.1,55.9L212.2,56.9L208.1,59.6L205.2,59.2L202.6,58.1L200.6,56.1L198.5,54.1L196.5,51.9L194.4,49.9L193,46.6L191.5,43.2M202.6,36.3L204.2,38.9L205.3,41.8L208,40.8L210.8,40.5L211.7,43.4L213.5,45.9L211.6,48L209.4,50L212.1,54.1M154.7,101.9L156.1,100.9M152.7,161.4L154,164.8M171.1,173L172.5,176.4M165,182.6L166.4,184.6M276.9,11.7L281.1,13L281.9,16.4L281.7,19.9L281.6,22.6L281.5,25.4L281.1,28.1L282.1,30.8L283,33.5L283.7,36.3L285.6,39.5L286.5,43.2L288.1,45.6L290.5,47.5L291.9,50L295.3,51.5L298.8,52.8L303.6,54L301.3,55.9L298.8,57.5L295.3,57.7L292,58.8L287.2,57.5L285.8,54.5L284.4,51.4L282.4,48.1L281,44.6L279.6,40.9L277.6,37.7L276.7,34.1L274.8,30.9L274.4,28.1L274.5,25.4L274.1,22.6L274.8,19.2L275.7,15.8L277,11.7M257.8,93.7L261.2,93.3L264.6,93L268.1,93.5L271.5,93.1L274.9,93.8L278.3,93.6L281.8,93.9L285.1,95.1L287.8,99.2L287.2,103.3L285.4,105.3L283.9,107.5L281.1,108.2L278.3,108.7L274.9,108.4L271.5,108.7L268,108.6L264.7,109.5L268.2,110.1L271.5,111.4L274.2,112.9L276.9,114.3L279.6,118.4L282.4,122.5L285.1,122.9L287.9,123.2L290.6,119.7L286.5,117L290.6,115.5L294.8,112.9L292,111.6L291.7,108.7L290.7,106L291.1,103.2L291.9,100.5L294.7,100L297.5,99.9L295.5,98L293.3,96.5L291.6,93.9L290.6,91L288.6,88.9L286.5,86.9L290.6,84.1L293.4,84.3L296.1,84L294.8,88.3L298.8,91L303,89.7L300.2,85.5L301.2,82.9L301.5,80.1L302.7,77.2L304.2,74.6L306.1,72.4L307.1,69.8L311.1,67.7L312.8,65.4L315.2,63.6L317.4,61.7L319.3,59.5L317.1,57.7L315.3,55.4L312.6,54.6L309.7,54.8L307,54.2L309.7,53.4L312.5,53L315.2,52.8L319.3,49.9L321.8,48.9L324,47.5L326.2,45.9L329.5,44.9L333,44.6L337.1,42.4L333.8,41.1L330.2,40.5L327.5,40.7L324.8,40.3L322.4,39.2L320.5,37.3L318,36.3L315.7,33.8L313.8,30.9L311.1,28.2L308.4,25.3L306.7,23L304.2,21.3L307,20.5L309.7,19.8L312.3,21.7L315.3,22.6L318.2,23.6L320.7,25.3L323.5,26.6L326.1,28.2L329.5,29.2L333,29.5L336.6,28.6L339.9,26.8L342.5,24.6L345.3,22.6L348.6,24.1L352.1,24.7L356.9,23.2M339.8,26.7L341.7,29.6L344,32.2L346.7,33.5L349.4,34.9L352.3,36.7L354.9,38.9L354.4,41.8L353.5,44.5L350.5,45.8L348.1,48M293.6,75.3L294.8,73.3L297.4,72.9L298.9,75.3L297.4,77.6L294.7,77.5L293.6,75.3M312.5,3.5L315.5,5.2L318,7.6L320.8,9.6L323.4,11.8L326.2,12.1L328.9,13L331.9,11.3L334.3,8.9L337.1,7.5L339.9,6.3L342.6,4.9M315.2,2.1L318.1,2.4L320.7,3.4L323.7,5.2L326.1,7.7L328.8,6.7L331.6,6.3M131.5,227.7L133,224.3L134.3,220.9L135.2,217.5L135.7,214L139.7,211.3L142.3,209.6L145.2,208.6L148,209L150.6,209.9L151.4,212.6L151.9,215.4L152.3,218.1L152.1,220.8L151.6,223.6L150.7,226.3L146.5,229L143.8,229.7L141.1,230.5L138.4,231.2L135.6,231.7L132.9,230.4L131.4,227.7M150.6,188L153.4,187.9L156.1,187.3L158.9,186.8L162.3,187L165.7,188L164.7,190.7L164.2,193.5L168.4,195L168.2,197.7L167.1,200.3L166,203.2L164.4,205.8L166.8,208.2L169.8,209.9L170.8,212.8L172.5,215.4L173.5,218.3L175.3,220.8L178,224.9L180.6,225.9L183.4,226.4L184.2,230.4L180.7,233.1L182,237.3L179.4,238.2L176.6,238.6L173.3,239.6L169.8,240.1L166.4,240.9L162.9,241.3L160.2,241.9L157.5,242.8L154.9,244.2L152,244.8L154.2,242.5L156,239.9L158.8,238.4L161.5,237.2L159.7,235L157.5,233.1L157,230.4L157.4,227.7L160.2,224.9L158.9,220.8L163,219.5L162.9,216.7L163.5,214L158.9,212.6L158.1,209.9L157.4,207.2L153.4,205.9L152.4,202.9L150.6,200.4L150,196.9L149.2,193.5L149.9,190.7L150.7,188.1M216.8,219.5L213.8,219L210.8,218.8L208.1,219.1L205.3,219.6L202.7,221L199.8,222.2L197.5,224L195.8,226.4L194.7,229L193.6,231.8L191.6,234.4L189.1,236.5L186.2,238L183.4,239.9L180.5,240.9L178,242.7L175.5,244.8L172.5,246L170.5,247.9L168.3,249.5L165.7,248.8L167,253L163,253.7L158.8,254.9L156.2,256L153.4,256.4L156,259.2L158.7,260.8L161.6,261.8L163.8,263.7L165.7,265.9L167,270.1L169.8,274.1L171.5,276.7L172.6,279.6L169.7,282.3L168.7,285.7L168.5,289.2L165.2,288.9L162,288.5L158.8,288.6L156.1,288L153.3,288.5L150.6,287.9L147.9,287.8L144.7,287.2L141.5,287.1L138.3,286.5L134.9,287.7L131.5,289.2L128.7,293.3L129.5,296L130.1,298.8L129.6,301.7L128.1,304.2L127.1,307.6L126.1,311.1L124.4,314.4L123.2,317.9L124,320.6L124.7,323.3L124.7,326.8L124.8,330.2L128.8,331.5L132.9,330.2L137,332.9L139.7,337L143.8,339.8L146.3,338L149.3,337.1L152.6,335.9L156.1,335.7L159.6,335.3L162.9,334.3L164.7,331.9L167,330.2L171.1,327.4L172.9,324.9L173.8,322L174.9,319.4L175.4,316.6L176.8,313.9L178,311.1L179.8,308.1L182.2,305.7L184.8,303.5L187.6,301.6L189.9,299.7L191.6,297.3L193.1,293.3L197.2,290.6L199.7,289.5L202.6,289.2L205.3,289.8L208.1,289.8L211,288.5L213.5,286.4L216.9,283.8M112.4,367.8L114.4,365.9L115.7,363.4L117.8,361.6L120.2,359.5L122.3,357L124.7,354.9L127,353L129.3,351.2L131.6,349.4L133.5,347.2L136.4,346.1L138.4,343.9L140.3,341.7L142.5,339.8L145.2,342.5L147.7,344L150.6,344.6L154.1,344.8L157.5,345.3L160.9,345.9L164.3,346.5L166.7,345.4L168.6,343.5L171.2,342.6L174.5,340.9L178,339.8L180.9,339.3L183.5,338L186.2,337.1L188.9,336.4L191.6,335.6L194.4,335.6L197.1,334.9L199.9,334.9L202.6,334.3L205.3,333.9L208.1,333.8L210.8,332.8L213.7,332L216.8,331.6M190,315.2L191.7,313.5L193.7,314.5L193.1,316.8L191,317.7L190.1,315.1M184.1,319.9L185.2,321.9M197.8,312.7L199.4,313.5M7.8,282.1L9.5,283.3M19.4,294L21.1,294.9M26,294.7L27.9,295.4M33.3,304L35.2,305.1M33.1,309.7L34.7,310.4M70,350L72.7,350.6L75.4,351.1M312.5,322L315.3,322.4L318,323.3L321.3,322.5L324.8,321.9L328.9,320L326.1,322.6L322.7,323.5L319.4,324.9L316.6,324L313.9,324L312.5,322M363.1,307L365.3,305.1L367.2,302.9L369.7,299.9L372.6,297.3L371.3,301.5L370.3,304.4L368.6,307L364.4,309L363.1,306.9M376.7,286.5L379.4,290.6L380.2,293.4L381.5,296L382.2,298.8L383,302.2L383.5,305.6L384,308.3L384.7,311L384.9,313.8L384.9,316.6L386.1,319.2L386.2,322L385.4,325L383.6,327.5L379.5,328.9L376.7,329.3L374,330.1L371.2,330.3L368.5,330.9L365.7,331.6L363.1,333L361.2,335.2L358.9,337L356.2,338.3L353.5,339.7L350,340.3L346.6,341L343.3,341.9L339.8,342.4L336.4,343L333,343.8L329.6,343.2L326.2,342.4L322.7,343.1L319.3,343.9L315.9,343.5L312.5,342.5L309.9,343.6L307,343.8L305.2,346.2L303,348.1L301.9,350.9L300.1,353.4L301.7,356.1L303,358.9L301.2,361.3L298.9,363.1L295.4,363.5L292,364.3L288.6,362.8L285.2,361.6L281.6,361.4L278.3,360.3L276,359L273.9,357.3L271.5,356.1L268.1,355.1L264.6,354.9M379.5,337L381.9,340L384.9,342.6L387.4,344.9L390.5,346.5L393.2,347L395.9,347.9M199.4,187.2L202.3,189.1L205.3,188.7L208.2,186.3L211.2,182.8L213.5,179.8L214.2,176.8L215.7,180.5L217,185L219.3,188.6L221.6,192.3L223.8,196L225.9,199.8L226.7,202.7L228.9,204.1L231.8,202.6L232.5,199.7L234,197.5L237.8,196.1L240,193.8L239.9,189.4L238.6,184.9L237.1,180.5L237.7,176.8L240.8,174.7L243,171.7L242.3,168.7L240,166.4L236.4,164.2L234.2,159.8L234.1,157.2L233.3,154.7L233.9,152.1L234.1,149.5L235.8,147.4L237,145L240.1,141.4L240.7,136.9L239.9,132.5L240.7,128.8L243.7,127.2M251.1,127.3L251.8,131L249.7,134.7L247.4,139.1L245.1,143.5L243.6,146.5L245.2,150.2L246.5,154.7L248.1,159.1L250.3,162.8L254,164.3L258.5,164.9L260.8,163.7L262.9,162.1L266.6,159L270.3,156.9L273.2,154.6L276.2,156.1L280.6,156.9L276.2,158.3L273.3,160.6L271.4,162.4L269.6,164.3L265.9,167.2L262.1,169.3L258.5,171.7L256.9,174.6L257.8,178.3L258.5,180.5L261.4,180.4L264.4,179L265.8,182L264.3,184.2L261.4,185.6L259.2,188.7L258.5,192.3L259.3,196L258.4,199.7L257,202.7L255.5,204.8L253.4,206.5L251.1,204.8L248.9,203.3L246.6,204.1L243.8,206.5L240.8,208.6L237.9,210.9L235.6,213.1L232.7,210.7L230.4,209.3L228.2,210L225.9,211.5L223,212.9L221.5,214.5M244.4,186.4L245.9,182.7L247.4,182L247.5,185.7L246,189.4L244.3,186.5M243.7,181.2L246.7,179.8M208.2,197.5L207.6,201.2L209,205.6L209.8,210L211.3,213.7L211.9,217.5L210.5,219.7L206.8,218.8L203.1,220.5L199.3,221.8L197.2,224.2L195.8,227.1L194.9,230.3M204.8,290.9L208.5,291L210.2,288.9L212.1,287.1L215.2,283.5L218.9,281.4L223.3,281.2L226.9,282.8L229.1,285.8L230.7,289.4L234.3,292.4L238,294.6L241.8,296.8L246.2,298.2L250.6,299.7L255,301.3L257.1,303L259.5,304.2L263.2,306.3L265.3,310.1L266.8,313.8L266.2,317.5L263.9,316.7L266.2,313.9L268.4,310.9L270.6,308.6L269.8,305.7L267.6,304.2L266.8,301.3L269,299.7L272.8,298.9L275.7,299.8L275.8,302L273.5,299L271.3,297.6L267.6,296.1L263.9,294.7L260.9,293.2L260.3,291.6L256.5,291.7L252.8,290.2L249.2,287.9L247,284.9L244.6,282.8L241.8,281.3L239.5,279.8L238.1,276.9L237.2,273.9L236.5,271.7L238.9,269.6L241,268.8M241,268.7L243.2,269.5L244.7,272.4L247.6,271.6L250.6,275.4L253.6,278.3L256.5,279.9L259.4,281.3L262.4,282.1L265.4,282.9L268.4,283.4L271.3,284.1L274.3,284.9L277.2,286.4L278.8,288.6L279.5,291.6L280.2,295.3L281.6,298.3L283.9,300.5L286,302.1L289,304.3L290.6,306.4L290.5,309.4L292.7,310.8L293.4,307.9L296.5,307.3L300.1,306.4L303.8,305.7L308.3,305L312.7,305.8L316.4,307.2L319.3,308.6M292.7,310.8L294.9,313.1L298.7,313.7L300.9,316.7L303.8,317.4L305.2,315.2L308.3,316.8L307.4,313.8L309.7,312.3L306.7,310.2L303.8,308.6M312.7,321.2L315.7,320.5L320.1,321.2L324.8,320.4M313.4,322.7L317.9,323.4L320.4,322.8L323,322.6M246.2,321.2L249.1,319.6L253.6,318.2L258,317.6L260.7,317.6L263.2,316.9L264,319.7L264,324.1L262.3,327.1L258,325L253.6,324.1L249.1,323.5L246.3,321.1M221.8,293.1L223.9,290.8L226.9,291.7L227.7,295.3L227.1,299L228.6,303.4L229.8,307.9L229.9,312.3L228.5,316L224.8,317.5L222.6,316.7L221.7,312.3L220.3,307.9L220.2,304.2L223.2,301.9L222.6,297.5L221.8,293.1M245.1,329L245.9,330M204.8,334.5L209.2,332.9L213.7,331.6L216.6,331.9L219.6,332.2L224,330.7L228.5,328.6L232.9,327.9L235.8,329.4L238.8,328.6L240.3,330L238.9,333.1L238,336L240.3,339.7L242.4,343.4L244.1,345.5L241.7,347.7L241,350.3M300.1,350.3L302.4,346.4L305.3,343.4L309.8,342L312.7,341.5L315.6,341.4L320.1,342.7L324.8,342.6M317.9,247.3L317.2,251.8L318.6,256.2L317.9,260.6L318.7,263.1L318.7,265.8L317.4,268.6L317,271.7L314.8,274.6L312.7,276.8L311.9,279.8M354.7,217.3L354,221.7L355.4,225.4L355.1,228L354.7,230.6L351.8,233.6L348.1,235.8L344.4,237.2M322.9,233.5L325.9,237.2L329.6,238.1L334,235.7L337.7,235.1L340.6,233.4L342.2,231.4L344.4,229.9L345.8,227.6L347.2,225.3L348.7,223.1L350.3,220.9L353.3,218.8M332.5,241.6L334,239.4L337,238.7L340.7,237.2L344.4,237.3L345.8,239.5L343.6,241.6L342.1,245.3L339.9,246L337.8,243.8L334.7,243.1L332.6,241.6M354.7,235L359.1,235.8L363.6,235.8L368,236.4L372.4,237.7L376.9,237.8L380.5,239.5L383.5,241.7L385,244.6L383.4,248.2L381.3,251.2L377.6,253.5L373.9,255.6L369.5,256.3L365,257.9L360.6,258.7L356.2,258.6L353.2,257.9L348.8,260.1L345.1,262.4L342.2,265.3L339.9,268.2L337.7,271.2L334,272.7L329.6,274.1L325.9,275.5L322.2,274.9L319.2,272.7L317.7,268.3L318.4,263.8L317.7,259.4L318.5,254.9L317.8,250.5L319.1,246L320.8,241.7L322.1,237.2L323,233.5M319.2,275.6L322.1,277.9L326.6,277.2L331.1,277L333.3,276.3M396.1,197.3L398.3,201L395.3,204.7L396,209.1L396.9,212.8L399.4,214L402,215.1L405,218.7L407.3,220.1L409.3,221.8L411.8,223.1L414.6,223.9L417.2,224.3L419.7,225.5L424.2,226.2L427.9,226.2L427,229.8L428.5,234.3L429.4,238.7L432.3,241.6M407.9,201L410.9,203.2L413.8,201.7L415.4,204.7L419.7,206.9L424.2,206.2L428.6,207.6L430.1,209.8L432.3,211.4M348.8,299.3L353.3,297.9L356.2,297.9L359.1,297.9L363.6,296.3L366.5,293.4L369.4,290.4L373.9,288.1L376.2,286.8L377.5,289.7L379.1,293.3L381.2,297.1L382.7,300.3"/>
<path fill="none" stroke="#1a1a14" stroke-opacity=".35" stroke-width="3.2" stroke-linejoin="round" d="M216.8,118.3L216,116.1L218.9,115.5L218.7,113.5L220.4,112.3L220.7,110.6L220.7,108.7L220.6,106.4L224.2,106.9L222.9,103.9L225,103.3L225.7,101.8L226.7,100.6L228.9,100.6L230.6,100.1L230.3,97.7L232.2,97.1L232.7,94.9L234.7,94.4L235.9,93L236.8,91.3L238.1,90.6L239.6,90L241.6,90.6L243.2,90.1L244.9,88.9L246.9,90L248.3,91.8L250.6,90.4L252.4,90.7L254.2,90.7L255.7,91L256.7,92.5L258,93.4M218.2,112.9L219.9,111.3L222.2,111.3L222.9,109.8L224.3,108.4L224.2,106.5L223.6,104.6L225.1,103.9L226.8,103.8L228.4,103.2L228.6,101.7L228.4,99.9L230.3,99.1L233.1,100.1L234.5,97.5L235.5,96.5L236.8,95.3L237.6,93.9L239,92.5L240.8,92.5L242.7,92.8M216.8,111.5L215.7,112.7L216.3,114.6L215.1,115.7L214.3,117L213.4,118.3L213.3,120.1L211.8,121.4L210.4,122.8L212.4,125.3L210.7,126.5M215.6,127.3L214.3,128.5L215.3,130.4L214.5,131.7L213.7,133.1L215.1,135.3L212.9,136.1L213.6,138.1L211.7,139L209.7,140.2L210.4,142.5L210,144.4L208.5,145.6L207.6,147.2L206.6,148.6L205.5,149.9L203.9,150.8L202.8,152.2L201.8,153.9L200.8,155.6L199,156.6L198.9,158.8L196.4,158.9L195.7,160.6L193.7,161.4L193.3,163.7L191.2,165.1L193.3,167L193.1,168.7L193.9,170.8L193.5,173.1L195.6,174.4L194.7,176.5L195,178.3L195,180.3L196.9,181.5L197.3,183.4L199.1,184.8L199.2,187.3M211.2,142.1L209.1,143L210,145L210.5,146.9L208.7,147.9L208.1,149.5L207.5,151.3L206.7,152.7L204.3,153L202.7,153.8L202.3,155.5L201.8,157.1L200.8,158.3L200.4,160.4L197.1,160.2L197.2,162.9L196,164L194.6,165.2L194.7,167.1L195.4,169.4L195.8,171.6L195.7,173.6L197.5,175.4L196.1,177.6L197.6,178.8L196.7,181.1L198.8,181.9M194.2,165.7L196,165.8L197.9,165.9L199.4,167.1L198.8,169.1L198,170.6L195.5,170L197.4,169.9L198.9,170.3L200.2,171.5L198.9,172.9L197.8,174.3L196.3,175.2L197.5,177.2L199.4,178.2M217.8,123.6L216,125.6L215.6,127.3"/>
<path fill="none" stroke="#0c0c0a" stroke-width="1.35" stroke-linejoin="round" d="M216.8,118.3L216,116.1L218.9,115.5L218.7,113.5L220.4,112.3L220.7,110.6L220.7,108.7L220.6,106.4L224.2,106.9L222.9,103.9L225,103.3L225.7,101.8L226.7,100.6L228.9,100.6L230.6,100.1L230.3,97.7L232.2,97.1L232.7,94.9L234.7,94.4L235.9,93L236.8,91.3L238.1,90.6L239.6,90L241.6,90.6L243.2,90.1L244.9,88.9L246.9,90L248.3,91.8L250.6,90.4L252.4,90.7L254.2,90.7L255.7,91L256.7,92.5L258,93.4M218.2,112.9L219.9,111.3L222.2,111.3L222.9,109.8L224.3,108.4L224.2,106.5L223.6,104.6L225.1,103.9L226.8,103.8L228.4,103.2L228.6,101.7L228.4,99.9L230.3,99.1L233.1,100.1L234.5,97.5L235.5,96.5L236.8,95.3L237.6,93.9L239,92.5L240.8,92.5L242.7,92.8M216.8,111.5L215.7,112.7L216.3,114.6L215.1,115.7L214.3,117L213.4,118.3L213.3,120.1L211.8,121.4L210.4,122.8L212.4,125.3L210.7,126.5M215.6,127.3L214.3,128.5L215.3,130.4L214.5,131.7L213.7,133.1L215.1,135.3L212.9,136.1L213.6,138.1L211.7,139L209.7,140.2L210.4,142.5L210,144.4L208.5,145.6L207.6,147.2L206.6,148.6L205.5,149.9L203.9,150.8L202.8,152.2L201.8,153.9L200.8,155.6L199,156.6L198.9,158.8L196.4,158.9L195.7,160.6L193.7,161.4L193.3,163.7L191.2,165.1L193.3,167L193.1,168.7L193.9,170.8L193.5,173.1L195.6,174.4L194.7,176.5L195,178.3L195,180.3L196.9,181.5L197.3,183.4L199.1,184.8L199.2,187.3M211.2,142.1L209.1,143L210,145L210.5,146.9L208.7,147.9L208.1,149.5L207.5,151.3L206.7,152.7L204.3,153L202.7,153.8L202.3,155.5L201.8,157.1L200.8,158.3L200.4,160.4L197.1,160.2L197.2,162.9L196,164L194.6,165.2L194.7,167.1L195.4,169.4L195.8,171.6L195.7,173.6L197.5,175.4L196.1,177.6L197.6,178.8L196.7,181.1L198.8,181.9M194.2,165.7L196,165.8L197.9,165.9L199.4,167.1L198.8,169.1L198,170.6L195.5,170L197.4,169.9L198.9,170.3L200.2,171.5L198.9,172.9L197.8,174.3L196.3,175.2L197.5,177.2L199.4,178.2M217.8,123.6L216,125.6L215.6,127.3"/>
<path fill="none" stroke="#1a1a14" stroke-opacity=".25" stroke-width="2.4" stroke-linejoin="round" d="M82.3,1.5L81.2,2.8L80.1,4.1L77.9,3.6L77,5.2L75.4,5.8L74.3,7.3L73.6,9.1L71.3,9L72.1,11.3L70.2,12.7L69.6,14.6L71.5,15.9L71.4,18.5L72.1,20.3L74.8,19.4L75.6,21.1L75.7,23.5L76.5,25.5L76.1,27.1L76.2,29.1L75.1,30.7L75.8,33.3L72.6,34L72.9,36.4L72.6,38.4L71.6,39.8L70.1,40.8L68.4,41.6L68.4,43.8L66.4,44.4L65.2,45.6L64.6,47.3L63.4,48.5L63.6,50.8L62.6,52.2L60.6,52.9L59,54.3L58.8,56.5L57.8,58.2L56.5,59.9L56,61.9L55.1,63.7L53.2,64.5L52.4,66L52.5,68.2L50.8,69.1L49.4,70.1L47.4,70.2L46.3,71.6L45.5,73.4L42.9,72.8L42.3,76.1L39.9,76L38,76.7L38,79.5L35.8,80.1L36,82.3L33.3,82.5L32.1,83.6L31.7,85.5L29.8,86.7L30.5,89.2L28.6,90.4L28.2,92.3L27.4,94L27.1,95.8L25.2,97.1L25.2,99.1L25.1,100.9L24,102.3L25.3,104.6L22.8,105.5L22.7,107.4L20.9,108.8L21.1,110.6L22.5,112.7L21.5,114.2L20.9,115.9L23,117.6L21.6,119.4L21.7,121.1L23.5,122.3L24.5,124.1L24,126.6L26.2,127.8L26.7,129.8L27,132L27,134.1L29.2,134.5L30.2,133.3L31.7,132L33.8,132L35.1,130.8L36.5,129.9L37.1,127.8L38.4,126.3L39.6,124.8L42.1,124.7L42.9,122.7L43.8,120.4L45.5,119.5L47.3,118.6L49.4,118.1L51.2,117.3L53,116.5L54.2,114.6L56.1,113.9L57.9,113L59.5,111.8L61.6,111.3L63.3,110.4L65.1,110.3L66.8,109.3L68.6,108.9L70.2,110.2L72.9,109.3L73.9,111.8L76.1,111.9L78,111.7L79.6,110.4L80.7,108.8L82.1,107.8L82.9,106L85.1,106.1L86.2,103.9L88,103L90.4,103.1L93.3,104.4L95,104.5L96.9,103.9L98.7,104.1L100.1,105.8L101.6,104.6L103.4,105.3L105,104L106.9,105.6L108.7,105.2L110,103.2L111.8,103L113.7,103.2L115.4,102L116.8,100.4L119.3,100.8L121.7,100.3L121.9,97.7L123.3,96.4L122.5,94.3L123,92.5L124.5,91L124.4,89L126.6,87.6L125.8,85.5L125.8,83.2L129.2,83.7L129.2,81.5L129.9,79.9L131.3,78.8L131,76.4L133.3,76L134.5,74.8L136.4,74L137.4,72.3L137.8,69.9L139.6,69L139.7,66.8L142.3,65.9L142.5,63.7L142.8,61.6L141,60.1L140.9,58.2L142.9,57.4L144.4,56.4L145,54.8L145.4,52.9L147,52L147.8,50.4L147.5,48.1L149.3,47.3L149.3,45.3L148.7,43.2L150.3,41.7L150.9,39.6L151.8,37.8L153.5,36.4L155.8,36L156,33.5L157.7,32.5L159.7,32.2L160.8,31L160.8,28.7L159.4,27.5L158.7,25.9L158.6,24.1L157.1,23.2L157.1,21L156.8,19.1L155,18.4L153.7,17.2L153.1,15.5L152.4,13.9L150.4,13.3L149.5,11.8L148.6,10.3L147,9.7L145.3,9.5L143.4,9.4L141.6,10L140.2,7.7L138.3,8.4L136.5,7.5L134.8,7.1L133.2,9.1L131.5,9L130.2,6.9L128.1,6.9L125.9,7.2L124.6,8.7L122.8,9.3L120.4,8.7L119.8,7.2L117.2,7.8L117.1,5.1L115.3,4.6L113.5,3.5L111.2,3.5L109.6,2.1L108.1,3.7L106.4,4.6L104.1,3.1L102.4,2.8L100.5,3L98.7,2.5L96.9,3.7L94.6,3.1L93.1,4.6L91,4.8L89.2,3.8L87.7,2.3L85.8,2.7L84.1,1.4L82.3,1.6M109.6,93.7L110.8,92.2L111.5,90.2L114,89.9L114.4,88L115.7,86.8L117,85.7L118.1,84.3L118.7,82.6L120.9,82.2L120.9,80.1L122,78.7L123.3,77.8L123.8,75.6L126,75.9L126.7,73.9L127.6,72.1L130.3,72L130.8,69.7L132.8,69.1L134.4,67.9M106.9,96.5L108.1,95.2L108.5,93.4L110,92.4L111,91L112.7,90.2L112,87.5L114.2,87L114.9,85.4L115.4,83.4L117.7,82.3L117.8,80.1M41.3,2.1L40.6,3.9L39.6,5.6L39.6,7.5L38.7,9.1L36.9,10.1L35.8,11.7L34.5,10.8L33.4,9.4L31.7,9L30.7,10.3L29.9,11.7L28.7,12.9L28.7,14.9L28.5,16.7L28.6,18.5L30.5,19.9L29.5,21.5L27.7,22.8L27.3,24.6L27.9,26.8L28.5,28.7L27.1,30.2L27.9,32.1L26.4,33.6L26.6,36L23.9,37L23.3,38.9L21.4,38.9L21.4,41.8L19.3,41.6L19.4,43.7L21.4,45.1L20.5,47.3L19,48.7L21,50.8L18.3,52.1L19.5,54.1L19.1,55.8L17.2,57.2L17.3,59L18.3,61L16.3,62L14.4,62.7L12.6,63.8L11.7,65.4L10.2,66L8.4,66.2L6.4,67.9L4.4,66.3L3.7,64.6L2,63.1L2.9,60.9L4.2,59.8L4.9,58.2L5.4,56.6L6.5,54.3L4.6,52.6L2.8,50.6L0.2,51.6M3,3.5L4.9,4.3L6.8,5.2L6.5,8.2L8.6,8.8L10.5,10.1L10.7,12.3L10.4,14.8L12.4,15.9L14,17.2L15,18.8L13.4,21.4L15.3,22.7L13.7,24L14.4,26.7L13.4,28.5L11.1,29.4L10.4,31.3L10.3,33.6L6.9,33.9L7,36.3L5.3,37.1L6.1,39.8L3.1,39.7L3.3,42L1.1,43.1L1.3,45.5L0.4,47.3M0.3,11.7L1.5,13.2L2,15.4L4.9,15.3L5.9,17L6.2,18.8L7.6,20.2L8.6,21.7L9,23.4L8.8,25.3L8.7,27.4L7.7,29L7,30.7L5.5,32.1L4.8,34.1L3,34.9L1.8,36.5M29,13.1L28.5,15.1L28.5,17.4L26.4,18.6L27.2,20.7L24.5,21.7L24.5,23.6L24.4,25.4L24,27L22.3,28.4L24.6,30.5L22.1,31.8L22.9,33.6L22.3,35.3L20.8,36.7L21.6,38.8L20.8,40.4M52.2,59.5L54,58.6L56,57.9L56.2,55.4L58,57.1L60.4,57L59.5,58.5L59.8,60.5L59.2,62.3L58.7,64.7L57.2,65.9L55.2,66.6L53,67.2L52.8,69.7L51.6,71.2L49.7,72.1L47.5,72L46,73L45.1,74.5L44.1,76.1L43.8,77.8L42.7,79.1L41.3,80.1L43.3,80.1L44.1,81.7L45.5,82.6M104.2,132L106.8,132.1L108.2,129.9L109.2,127.9L111.3,126.8L111.4,128.9L109.5,130.6L108.4,131.8L109.2,134.1L106.2,134.2L105.9,135.9M194.4,41.8L194.4,44L195.5,45.8L197.1,47.2L197.9,49.1L198.5,51.1L200.2,52.6L200.7,54.6L203.1,54.9L204.2,56.6M237.3,2.1L239.1,0.9L241.1,1.1L243.1,2.5L244.9,1L246.9,1.5L248.8,3.1L248.9,5L248.6,7L248.1,9L246.4,9.9L245.1,11.3L244.3,13.2L242.3,13.9L240.5,15L238.7,15.8L238.1,17.9L235.1,17.2L235.2,20.1L233,20.3L232.7,18.4L230.2,18.8L231.4,16.8L233.4,15.6L234.8,14.2L234.5,11.7L234.3,9.7L234.6,7.8L236.3,6.3L235.7,3.9L237.4,2.2M238.7,3.5L241,3.4L242.3,5.4L244,6.6L243.6,8.4L240.7,8.2L240,10.3L237.8,10.8L236.8,12.6L236.1,14.6L233.7,14.9L233.2,17.2M287.9,57.5L289.5,58.8L291.5,58.5L293.3,58.8L295.6,59.3L297,57.5L298.9,57M150.6,188L148.6,189.5L150.1,191.8L149.5,193.6L149.6,195.3L151.9,195.7L152.3,197.4L150.4,200.2L152.5,201.5L153.9,203.3L153.4,205.8L156,207.4M153.4,189.4L153.9,191.2L155.3,192.8L155.1,194.8L153.9,196.9L153.3,198.9L153.3,201.1L155.7,201.5M195.7,226.3L198.5,224.9L199.5,227.8L198,228.5L197.3,230.6M191.6,234.5L194.5,233.4L195.4,235.1M234.8,174.6L236.7,173.8L238.4,172.8L240,173.8L241.6,174.3L239.3,176.1M250.3,163.5L252.1,164.6L254,165.1L255.8,165.8L257.7,165.4M257,172.4L260,171.8L260.9,173.8L258.4,175.2M244.8,166.5L246.9,167.5M221.5,214.5L220.1,212.2L218.4,211.9L217.2,210.6L216.2,209L214.2,208.5L213,206.9L213.2,204.9L213.5,203L214,201.2L213.2,199.8L212.8,198.2L209.6,198.6L208,197.7L209.7,195.3L210.5,193.2L212.5,193.5L214.7,193.5L215.6,191.6L216.8,194L216.5,195.4L216,196.9L216.7,198.1L217,199.7L215.1,200.6L215.3,202.5L216.4,204.1L217.2,205.6L219.1,205.2L220,207.2M217.1,201.2L219,199.7L221.6,199.9L223.4,199.6L224.6,200.9L224.4,203.1L225.8,204.2L223.9,204.9L223.6,207L222.2,208.8L220,207.7L218.9,206.5L217.1,206.4L218.5,204.6L216.3,202.9L217.5,201.2M214.1,207.1L215.3,208.5L217.3,208.2L215.9,211M228.9,208.6L230.1,210.1L231.7,211L234.2,210.8L234.9,212.9M171.3,173.1L172.2,176.1M244.7,270.2L246.3,271.2L247.8,272.2L248.1,275L250.3,275.7L252.7,276.2L253.8,278.1L255.4,278.4L256.6,279.7L257.4,281.7L259.3,281.6L262.4,282.3L265.5,282.4L268.3,283.7L271.3,284.4M246.2,269.5L247.3,271.6L248.8,273.4L251.6,273.6L252.3,275.9L252.6,278.4M259.5,279.8L261.3,281.9L263.9,281.4L266,281.4L267.6,282.8M297.2,291.6L297.9,289.5L300.2,290.3L302,290L303.2,291.3L305.5,289.7L308.2,288.5L310.6,289.2L312.1,287.5L314.3,286.6L314.7,284L316.3,283.4L317.7,282.5L319.9,284.5L322.2,284L323.1,282.1L324.8,281.3M300.9,299L302.6,299.3L303.7,300.7L305.3,301.2L306.7,302.1L308.8,301.7L309.8,303.3L311.9,302.4L313.4,304.4L314.8,305.1L316.5,305.4M302.3,291.6L300.5,293L301,295.4L302.2,297L303.3,298.9M303.8,306.4L305.7,306.9L306.6,308.8L306.2,311.6M317.9,291.6L319.8,292.5L320.1,294.6M318.6,308.6L320.9,310.7M283.9,300.5L285.9,302.6M311.2,290.9L312.2,291.4M311.2,298.3L311.7,299.3M317.1,290.2L318.3,288.4M260.2,332.6L261.5,333.6M354,218L354.9,219.7L355,221.7L356.4,223.7L354.8,225.4L353.9,227.8L355.6,229.8L354.2,231.2L353.2,232.8M322.9,233.5L325.4,234.6L326.1,237.1L328,237.9M334.8,235.7L337.2,235.7L339.1,234L341.4,233.4M314.8,286L317.1,285.9L317.5,283.4L319.1,281.7L321.5,282.3L322.9,281.2L324.6,280.3M317,289.7L317.4,292L319.2,293.4L318.5,295.8L320.7,297.1L321.8,298.7L322.8,300.4M314.8,291.9L316.2,293.1L317.1,294.8L317.5,297.1L318.6,299.2M395.3,204.7L395.9,201.7L398.3,200.3M117.8,99.2L118.4,97.4L120.1,96.7L122.1,96L121.9,93.7L123.8,92.3L122,89.9L123.2,88.2L124.9,87.3L124.6,85L125.9,83.8L127.6,83L128.4,81.4L130.2,80.6L129.8,78.2L131.3,77.2L132.5,75.6L133.5,73.9L136.7,74.3L136.8,71.7L138.1,70.1L137.7,67.7L139.7,66.4L138.9,64.6L138.5,62.8L138,61L138.4,58.8L141.2,58.8L141,56.5L142.3,55.3L142.7,53.5L143.9,52.3L144.8,50.8L146.2,49.8L147.4,48.4L146.7,46.5L146.5,44.6L148.1,43.2L147.6,40.7L149.1,39.2L150.9,37.8L151.2,35.5L153.2,34.8L154.9,33.8L156.5,32.8L155.7,30.2L157.4,29.4M74.1,28.1L72.7,29.6L73.1,31.7L70.7,32.7L71.6,35L69.1,35.9L69.3,38.4L69,40.5L67.3,41.8L67.2,44.1L64.6,44.9L64.8,47.3L62.9,48.4L61.9,50.2L61.5,52.2L60.8,54.2L59,55.4L59,57.7L56.2,58.6L56.6,61.1L55.3,62.3L54.2,63.6L53.8,65.5L52,66.3L51.5,68L49.8,68.8L49,70.4L48.2,71.9L47,73.2L46.2,75L44.6,75.8L42.5,75.7L41.7,77.7L39.5,78.3L38.8,80.3L37.4,81.3L36.8,83.1L35.5,84.2L34.6,85.6L34.8,87.6L33.2,88.6L32.6,90.1L31.3,91.1L29.7,92.4L30.3,94.7L29.3,96.2L28,97.7L26.9,99.2L26,100.7L25.6,102.4L27.2,104.8L25.7,106.1L26.7,108L24.3,109.3L24,111.1L24.3,112.9M117.8,10.3L119.4,9.9L121.2,10.6L122.8,10.6L124.3,9L126.1,9.9L128,9.9L129.5,11.4L131.6,11.5L133.1,10.3L135,12.7L136.7,11.9L138.4,11.2L140.3,9.9L142,10.3L143.7,11L145.2,12.2L146.9,12.7L148.1,13.8L150.1,13.7L150.7,15.7L151.3,17.4L153.5,17.9L152.8,20.6L154.7,21.3L155,23.4L157.3,24.6L157.5,26.7M145.2,13.1L143.7,14.6L143.8,16.9L142.8,18.7L143,20.7L144.5,21.9L146.7,22.5L146.9,25.1L143.7,25.8L143.7,28.1M152,22.6L152.2,25.1L150.7,26.5L150,28.4L147.7,29.4L149.9,30.2L149.7,33.1L151.9,33.7M132.9,10.3L133.7,12.5L131.4,13.8L131.6,15.8L132.4,17.4L133.6,18.5L135.7,18.4M131.5,77.3L129.4,77.5L129.6,74.3L127.4,74.6L125.3,75.2L125.1,77L124.5,78.6M126,85.5L124.5,84L122.5,84.2L120.6,84.2L120.9,86.6L118.2,87.5L117.9,89.6L115.8,88.9L113.8,87.9M115.1,91L114.4,92.9L111.9,92.1L111.2,94L111.4,95.5L112,97L113.9,97.7M27.6,28.1L27.7,29.8L26.7,31.6L28,33.1L28.6,34.7L29.2,36.3L29.8,38.4L28.4,39.9L27.7,41.5L27.2,43.2M35.8,9L36.1,10.8L36.3,12.6L34.1,14L34.3,15.8L34.5,17.8L33.8,19.5L32.3,20.9L31.7,22.7L29.9,23.9L31.1,26.2L30.8,28L29.4,29.4M7.1,52.7L9.1,52.7L9.7,54.7L11.3,55.3L11.9,57.5L13.8,58.3L15.2,59.7L17,61.3L16.5,63.7M24.9,126.5L25.5,128.1L26.8,129.2L27.4,130.8L29.3,131.7L31,130.3M22.1,110.1L23.5,111.7L23.9,113.6L24.4,115.5L25.2,117.6L24.2,119.2L24.1,120.9L22.7,122.4M90.5,3.5L91.5,4.8L93.3,5.5L93.3,7.5M98.7,2.1L100.1,3.4L101.7,4.6L103,6L103.4,4.2L104.7,3.1L107.1,3.8M112.4,3.5L112.6,5.7L115.4,6.6L114.9,9"/>
<path fill="none" stroke="#0c0c0a" stroke-width="1.05" stroke-linejoin="round" d="M82.3,1.5L81.2,2.8L80.1,4.1L77.9,3.6L77,5.2L75.4,5.8L74.3,7.3L73.6,9.1L71.3,9L72.1,11.3L70.2,12.7L69.6,14.6L71.5,15.9L71.4,18.5L72.1,20.3L74.8,19.4L75.6,21.1L75.7,23.5L76.5,25.5L76.1,27.1L76.2,29.1L75.1,30.7L75.8,33.3L72.6,34L72.9,36.4L72.6,38.4L71.6,39.8L70.1,40.8L68.4,41.6L68.4,43.8L66.4,44.4L65.2,45.6L64.6,47.3L63.4,48.5L63.6,50.8L62.6,52.2L60.6,52.9L59,54.3L58.8,56.5L57.8,58.2L56.5,59.9L56,61.9L55.1,63.7L53.2,64.5L52.4,66L52.5,68.2L50.8,69.1L49.4,70.1L47.4,70.2L46.3,71.6L45.5,73.4L42.9,72.8L42.3,76.1L39.9,76L38,76.7L38,79.5L35.8,80.1L36,82.3L33.3,82.5L32.1,83.6L31.7,85.5L29.8,86.7L30.5,89.2L28.6,90.4L28.2,92.3L27.4,94L27.1,95.8L25.2,97.1L25.2,99.1L25.1,100.9L24,102.3L25.3,104.6L22.8,105.5L22.7,107.4L20.9,108.8L21.1,110.6L22.5,112.7L21.5,114.2L20.9,115.9L23,117.6L21.6,119.4L21.7,121.1L23.5,122.3L24.5,124.1L24,126.6L26.2,127.8L26.7,129.8L27,132L27,134.1L29.2,134.5L30.2,133.3L31.7,132L33.8,132L35.1,130.8L36.5,129.9L37.1,127.8L38.4,126.3L39.6,124.8L42.1,124.7L42.9,122.7L43.8,120.4L45.5,119.5L47.3,118.6L49.4,118.1L51.2,117.3L53,116.5L54.2,114.6L56.1,113.9L57.9,113L59.5,111.8L61.6,111.3L63.3,110.4L65.1,110.3L66.8,109.3L68.6,108.9L70.2,110.2L72.9,109.3L73.9,111.8L76.1,111.9L78,111.7L79.6,110.4L80.7,108.8L82.1,107.8L82.9,106L85.1,106.1L86.2,103.9L88,103L90.4,103.1L93.3,104.4L95,104.5L96.9,103.9L98.7,104.1L100.1,105.8L101.6,104.6L103.4,105.3L105,104L106.9,105.6L108.7,105.2L110,103.2L111.8,103L113.7,103.2L115.4,102L116.8,100.4L119.3,100.8L121.7,100.3L121.9,97.7L123.3,96.4L122.5,94.3L123,92.5L124.5,91L124.4,89L126.6,87.6L125.8,85.5L125.8,83.2L129.2,83.7L129.2,81.5L129.9,79.9L131.3,78.8L131,76.4L133.3,76L134.5,74.8L136.4,74L137.4,72.3L137.8,69.9L139.6,69L139.7,66.8L142.3,65.9L142.5,63.7L142.8,61.6L141,60.1L140.9,58.2L142.9,57.4L144.4,56.4L145,54.8L145.4,52.9L147,52L147.8,50.4L147.5,48.1L149.3,47.3L149.3,45.3L148.7,43.2L150.3,41.7L150.9,39.6L151.8,37.8L153.5,36.4L155.8,36L156,33.5L157.7,32.5L159.7,32.2L160.8,31L160.8,28.7L159.4,27.5L158.7,25.9L158.6,24.1L157.1,23.2L157.1,21L156.8,19.1L155,18.4L153.7,17.2L153.1,15.5L152.4,13.9L150.4,13.3L149.5,11.8L148.6,10.3L147,9.7L145.3,9.5L143.4,9.4L141.6,10L140.2,7.7L138.3,8.4L136.5,7.5L134.8,7.1L133.2,9.1L131.5,9L130.2,6.9L128.1,6.9L125.9,7.2L124.6,8.7L122.8,9.3L120.4,8.7L119.8,7.2L117.2,7.8L117.1,5.1L115.3,4.6L113.5,3.5L111.2,3.5L109.6,2.1L108.1,3.7L106.4,4.6L104.1,3.1L102.4,2.8L100.5,3L98.7,2.5L96.9,3.7L94.6,3.1L93.1,4.6L91,4.8L89.2,3.8L87.7,2.3L85.8,2.7L84.1,1.4L82.3,1.6M109.6,93.7L110.8,92.2L111.5,90.2L114,89.9L114.4,88L115.7,86.8L117,85.7L118.1,84.3L118.7,82.6L120.9,82.2L120.9,80.1L122,78.7L123.3,77.8L123.8,75.6L126,75.9L126.7,73.9L127.6,72.1L130.3,72L130.8,69.7L132.8,69.1L134.4,67.9M106.9,96.5L108.1,95.2L108.5,93.4L110,92.4L111,91L112.7,90.2L112,87.5L114.2,87L114.9,85.4L115.4,83.4L117.7,82.3L117.8,80.1M41.3,2.1L40.6,3.9L39.6,5.6L39.6,7.5L38.7,9.1L36.9,10.1L35.8,11.7L34.5,10.8L33.4,9.4L31.7,9L30.7,10.3L29.9,11.7L28.7,12.9L28.7,14.9L28.5,16.7L28.6,18.5L30.5,19.9L29.5,21.5L27.7,22.8L27.3,24.6L27.9,26.8L28.5,28.7L27.1,30.2L27.9,32.1L26.4,33.6L26.6,36L23.9,37L23.3,38.9L21.4,38.9L21.4,41.8L19.3,41.6L19.4,43.7L21.4,45.1L20.5,47.3L19,48.7L21,50.8L18.3,52.1L19.5,54.1L19.1,55.8L17.2,57.2L17.3,59L18.3,61L16.3,62L14.4,62.7L12.6,63.8L11.7,65.4L10.2,66L8.4,66.2L6.4,67.9L4.4,66.3L3.7,64.6L2,63.1L2.9,60.9L4.2,59.8L4.9,58.2L5.4,56.6L6.5,54.3L4.6,52.6L2.8,50.6L0.2,51.6M3,3.5L4.9,4.3L6.8,5.2L6.5,8.2L8.6,8.8L10.5,10.1L10.7,12.3L10.4,14.8L12.4,15.9L14,17.2L15,18.8L13.4,21.4L15.3,22.7L13.7,24L14.4,26.7L13.4,28.5L11.1,29.4L10.4,31.3L10.3,33.6L6.9,33.9L7,36.3L5.3,37.1L6.1,39.8L3.1,39.7L3.3,42L1.1,43.1L1.3,45.5L0.4,47.3M0.3,11.7L1.5,13.2L2,15.4L4.9,15.3L5.9,17L6.2,18.8L7.6,20.2L8.6,21.7L9,23.4L8.8,25.3L8.7,27.4L7.7,29L7,30.7L5.5,32.1L4.8,34.1L3,34.9L1.8,36.5M29,13.1L28.5,15.1L28.5,17.4L26.4,18.6L27.2,20.7L24.5,21.7L24.5,23.6L24.4,25.4L24,27L22.3,28.4L24.6,30.5L22.1,31.8L22.9,33.6L22.3,35.3L20.8,36.7L21.6,38.8L20.8,40.4M52.2,59.5L54,58.6L56,57.9L56.2,55.4L58,57.1L60.4,57L59.5,58.5L59.8,60.5L59.2,62.3L58.7,64.7L57.2,65.9L55.2,66.6L53,67.2L52.8,69.7L51.6,71.2L49.7,72.1L47.5,72L46,73L45.1,74.5L44.1,76.1L43.8,77.8L42.7,79.1L41.3,80.1L43.3,80.1L44.1,81.7L45.5,82.6M104.2,132L106.8,132.1L108.2,129.9L109.2,127.9L111.3,126.8L111.4,128.9L109.5,130.6L108.4,131.8L109.2,134.1L106.2,134.2L105.9,135.9M194.4,41.8L194.4,44L195.5,45.8L197.1,47.2L197.9,49.1L198.5,51.1L200.2,52.6L200.7,54.6L203.1,54.9L204.2,56.6M237.3,2.1L239.1,0.9L241.1,1.1L243.1,2.5L244.9,1L246.9,1.5L248.8,3.1L248.9,5L248.6,7L248.1,9L246.4,9.9L245.1,11.3L244.3,13.2L242.3,13.9L240.5,15L238.7,15.8L238.1,17.9L235.1,17.2L235.2,20.1L233,20.3L232.7,18.4L230.2,18.8L231.4,16.8L233.4,15.6L234.8,14.2L234.5,11.7L234.3,9.7L234.6,7.8L236.3,6.3L235.7,3.9L237.4,2.2M238.7,3.5L241,3.4L242.3,5.4L244,6.6L243.6,8.4L240.7,8.2L240,10.3L237.8,10.8L236.8,12.6L236.1,14.6L233.7,14.9L233.2,17.2M287.9,57.5L289.5,58.8L291.5,58.5L293.3,58.8L295.6,59.3L297,57.5L298.9,57M150.6,188L148.6,189.5L150.1,191.8L149.5,193.6L149.6,195.3L151.9,195.7L152.3,197.4L150.4,200.2L152.5,201.5L153.9,203.3L153.4,205.8L156,207.4M153.4,189.4L153.9,191.2L155.3,192.8L155.1,194.8L153.9,196.9L153.3,198.9L153.3,201.1L155.7,201.5M195.7,226.3L198.5,224.9L199.5,227.8L198,228.5L197.3,230.6M191.6,234.5L194.5,233.4L195.4,235.1M234.8,174.6L236.7,173.8L238.4,172.8L240,173.8L241.6,174.3L239.3,176.1M250.3,163.5L252.1,164.6L254,165.1L255.8,165.8L257.7,165.4M257,172.4L260,171.8L260.9,173.8L258.4,175.2M244.8,166.5L246.9,167.5M221.5,214.5L220.1,212.2L218.4,211.9L217.2,210.6L216.2,209L214.2,208.5L213,206.9L213.2,204.9L213.5,203L214,201.2L213.2,199.8L212.8,198.2L209.6,198.6L208,197.7L209.7,195.3L210.5,193.2L212.5,193.5L214.7,193.5L215.6,191.6L216.8,194L216.5,195.4L216,196.9L216.7,198.1L217,199.7L215.1,200.6L215.3,202.5L216.4,204.1L217.2,205.6L219.1,205.2L220,207.2M217.1,201.2L219,199.7L221.6,199.9L223.4,199.6L224.6,200.9L224.4,203.1L225.8,204.2L223.9,204.9L223.6,207L222.2,208.8L220,207.7L218.9,206.5L217.1,206.4L218.5,204.6L216.3,202.9L217.5,201.2M214.1,207.1L215.3,208.5L217.3,208.2L215.9,211M228.9,208.6L230.1,210.1L231.7,211L234.2,210.8L234.9,212.9M171.3,173.1L172.2,176.1M244.7,270.2L246.3,271.2L247.8,272.2L248.1,275L250.3,275.7L252.7,276.2L253.8,278.1L255.4,278.4L256.6,279.7L257.4,281.7L259.3,281.6L262.4,282.3L265.5,282.4L268.3,283.7L271.3,284.4M246.2,269.5L247.3,271.6L248.8,273.4L251.6,273.6L252.3,275.9L252.6,278.4M259.5,279.8L261.3,281.9L263.9,281.4L266,281.4L267.6,282.8M297.2,291.6L297.9,289.5L300.2,290.3L302,290L303.2,291.3L305.5,289.7L308.2,288.5L310.6,289.2L312.1,287.5L314.3,286.6L314.7,284L316.3,283.4L317.7,282.5L319.9,284.5L322.2,284L323.1,282.1L324.8,281.3M300.9,299L302.6,299.3L303.7,300.7L305.3,301.2L306.7,302.1L308.8,301.7L309.8,303.3L311.9,302.4L313.4,304.4L314.8,305.1L316.5,305.4M302.3,291.6L300.5,293L301,295.4L302.2,297L303.3,298.9M303.8,306.4L305.7,306.9L306.6,308.8L306.2,311.6M317.9,291.6L319.8,292.5L320.1,294.6M318.6,308.6L320.9,310.7M283.9,300.5L285.9,302.6M311.2,290.9L312.2,291.4M311.2,298.3L311.7,299.3M317.1,290.2L318.3,288.4M260.2,332.6L261.5,333.6M354,218L354.9,219.7L355,221.7L356.4,223.7L354.8,225.4L353.9,227.8L355.6,229.8L354.2,231.2L353.2,232.8M322.9,233.5L325.4,234.6L326.1,237.1L328,237.9M334.8,235.7L337.2,235.7L339.1,234L341.4,233.4M314.8,286L317.1,285.9L317.5,283.4L319.1,281.7L321.5,282.3L322.9,281.2L324.6,280.3M317,289.7L317.4,292L319.2,293.4L318.5,295.8L320.7,297.1L321.8,298.7L322.8,300.4M314.8,291.9L316.2,293.1L317.1,294.8L317.5,297.1L318.6,299.2M395.3,204.7L395.9,201.7L398.3,200.3M117.8,99.2L118.4,97.4L120.1,96.7L122.1,96L121.9,93.7L123.8,92.3L122,89.9L123.2,88.2L124.9,87.3L124.6,85L125.9,83.8L127.6,83L128.4,81.4L130.2,80.6L129.8,78.2L131.3,77.2L132.5,75.6L133.5,73.9L136.7,74.3L136.8,71.7L138.1,70.1L137.7,67.7L139.7,66.4L138.9,64.6L138.5,62.8L138,61L138.4,58.8L141.2,58.8L141,56.5L142.3,55.3L142.7,53.5L143.9,52.3L144.8,50.8L146.2,49.8L147.4,48.4L146.7,46.5L146.5,44.6L148.1,43.2L147.6,40.7L149.1,39.2L150.9,37.8L151.2,35.5L153.2,34.8L154.9,33.8L156.5,32.8L155.7,30.2L157.4,29.4M74.1,28.1L72.7,29.6L73.1,31.7L70.7,32.7L71.6,35L69.1,35.9L69.3,38.4L69,40.5L67.3,41.8L67.2,44.1L64.6,44.9L64.8,47.3L62.9,48.4L61.9,50.2L61.5,52.2L60.8,54.2L59,55.4L59,57.7L56.2,58.6L56.6,61.1L55.3,62.3L54.2,63.6L53.8,65.5L52,66.3L51.5,68L49.8,68.8L49,70.4L48.2,71.9L47,73.2L46.2,75L44.6,75.8L42.5,75.7L41.7,77.7L39.5,78.3L38.8,80.3L37.4,81.3L36.8,83.1L35.5,84.2L34.6,85.6L34.8,87.6L33.2,88.6L32.6,90.1L31.3,91.1L29.7,92.4L30.3,94.7L29.3,96.2L28,97.7L26.9,99.2L26,100.7L25.6,102.4L27.2,104.8L25.7,106.1L26.7,108L24.3,109.3L24,111.1L24.3,112.9M117.8,10.3L119.4,9.9L121.2,10.6L122.8,10.6L124.3,9L126.1,9.9L128,9.9L129.5,11.4L131.6,11.5L133.1,10.3L135,12.7L136.7,11.9L138.4,11.2L140.3,9.9L142,10.3L143.7,11L145.2,12.2L146.9,12.7L148.1,13.8L150.1,13.7L150.7,15.7L151.3,17.4L153.5,17.9L152.8,20.6L154.7,21.3L155,23.4L157.3,24.6L157.5,26.7M145.2,13.1L143.7,14.6L143.8,16.9L142.8,18.7L143,20.7L144.5,21.9L146.7,22.5L146.9,25.1L143.7,25.8L143.7,28.1M152,22.6L152.2,25.1L150.7,26.5L150,28.4L147.7,29.4L149.9,30.2L149.7,33.1L151.9,33.7M132.9,10.3L133.7,12.5L131.4,13.8L131.6,15.8L132.4,17.4L133.6,18.5L135.7,18.4M131.5,77.3L129.4,77.5L129.6,74.3L127.4,74.6L125.3,75.2L125.1,77L124.5,78.6M126,85.5L124.5,84L122.5,84.2L120.6,84.2L120.9,86.6L118.2,87.5L117.9,89.6L115.8,88.9L113.8,87.9M115.1,91L114.4,92.9L111.9,92.1L111.2,94L111.4,95.5L112,97L113.9,97.7M27.6,28.1L27.7,29.8L26.7,31.6L28,33.1L28.6,34.7L29.2,36.3L29.8,38.4L28.4,39.9L27.7,41.5L27.2,43.2M35.8,9L36.1,10.8L36.3,12.6L34.1,14L34.3,15.8L34.5,17.8L33.8,19.5L32.3,20.9L31.7,22.7L29.9,23.9L31.1,26.2L30.8,28L29.4,29.4M7.1,52.7L9.1,52.7L9.7,54.7L11.3,55.3L11.9,57.5L13.8,58.3L15.2,59.7L17,61.3L16.5,63.7M24.9,126.5L25.5,128.1L26.8,129.2L27.4,130.8L29.3,131.7L31,130.3M22.1,110.1L23.5,111.7L23.9,113.6L24.4,115.5L25.2,117.6L24.2,119.2L24.1,120.9L22.7,122.4M90.5,3.5L91.5,4.8L93.3,5.5L93.3,7.5M98.7,2.1L100.1,3.4L101.7,4.6L103,6L103.4,4.2L104.7,3.1L107.1,3.8M112.4,3.5L112.6,5.7L115.4,6.6L114.9,9"/>
<g><rect x="359.4" y="5.3" width="70.4" height="22.5" fill="#fff" fill-opacity=".93"/><circle cx="370.2" cy="17.6" r="9.1" fill="#eaf4fb" stroke="#8fbfe3" stroke-width="1.7"/><path d="M366,16.5l3,-3.2l2.2,.8l-.6,2.6l2.6,-1.2l1.6,2l-1.8,3.6l-2.4,-.4l.4,-2.6l-2.8,1.4l-2.6,-.6z" fill="#4f97d6"/><path d="M364.2,19.5l2.2,-.6l.6,1.8l-1.8,.8z" fill="#4f97d6"/><circle cx="370" cy="8.4" r="2.2" fill="#f6c14e"/><rect x="418.5" y="8.4" width="11.4" height="18.3" fill="#2f5eaa"/><rect x="418.5" y="8.4" width="11.4" height="3" fill="#5f86c4"/><circle cx="424.2" cy="19.8" r="4" fill="none" stroke="#b9cdea" stroke-width="1.3"/><circle cx="424.4" cy="19.6" r="1.4" fill="#dfe9f7"/></g>
<rect x=".5" y=".5" width="431.7" height="367.0" fill="none" stroke="#2a2a20" stroke-opacity=".55" stroke-width="1.2"/>
</svg></pattern>
<rect x="167.2" y="201.2" width="1318.70" height="1495.25" fill="url(#geo)"/>
<text x="550.3" y="219.1" font-family="Liberation Sans, sans-serif" font-weight="bold" font-size="8.4" fill="#23407f" textLength="32.7" lengthAdjust="spacingAndGlyphs">WMO <tspan fill="#6a9fd8" font-weight="normal">RA VI</tspan></text>
<text x="550.3" y="224.7" font-family="Liberation Sans, sans-serif" font-weight="bold" font-size="5.2" fill="#3b5288" textLength="32.5" lengthAdjust="spacingAndGlyphs">RCC Network</text>
<text x="185.6" y="558.1" font-family="Liberation Serif, serif" font-size="23.5" fill="#15100a" stroke="#15100a" stroke-width=".75">Jan</text>
<text x="993.3" y="219.1" font-family="Liberation Sans, sans-serif" font-weight="bold" font-size="8.4" fill="#23407f" textLength="32.7" lengthAdjust="spacingAndGlyphs">WMO <tspan fill="#6a9fd8" font-weight="normal">RA VI</tspan></text>
<text x="993.3" y="224.7" font-family="Liberation Sans, sans-serif" font-weight="bold" font-size="5.2" fill="#3b5288" textLength="32.5" lengthAdjust="spacingAndGlyphs">RCC Network</text>
<text x="628.6" y="558.1" font-family="Liberation Serif, serif" font-size="23.5" fill="#15100a" stroke="#15100a" stroke-width=".75">Feb</text>
<text x="1436.3" y="219.1" font-family="Liberation Sans, sans-serif" font-weight="bold" font-size="8.4" fill="#23407f" textLength="32.7" lengthAdjust="spacingAndGlyphs">WMO <tspan fill="#6a9fd8" font-weight="normal">RA VI</tspan></text>
<text x="1436.3" y="224.7" font-family="Liberation Sans, sans-serif" font-weight="bold" font-size="5.2" fill="#3b5288" textLength="32.5" lengthAdjust="spacingAndGlyphs">RCC Network</text>
<text x="1071.6" y="558.1" font-family="Liberation Serif, serif" font-size="23.5" fill="#15100a" stroke="#15100a" stroke-width=".75">Mar</text>
<text x="550.3" y="594.9" font-family="Liberation Sans, sans-serif" font-weight="bold" font-size="8.4" fill="#23407f" textLength="32.7" lengthAdjust="spacingAndGlyphs">WMO <tspan fill="#6a9fd8" font-weight="normal">RA VI</tspan></text>
<text x="550.3" y="600.5" font-family="Liberation Sans, sans-serif" font-weight="bold" font-size="5.2" fill="#3b5288" textLength="32.5" lengthAdjust="spacingAndGlyphs">RCC Network</text>
<text x="185.6" y="933.9" font-family="Liberation Serif, serif" font-size="23.5" fill="#15100a" stroke="#15100a" stroke-width=".75">Apr</text>
<text x="993.3" y="594.9" font-family="Liberation Sans, sans-serif" font-weight="bold" font-size="8.4" fill="#23407f" textLength="32.7" lengthAdjust="spacingAndGlyphs">WMO <tspan fill="#6a9fd8" font-weight="normal">RA VI</tspan></text>
<text x="993.3" y="600.5" font-family="Liberation Sans, sans-serif" font-weight="bold" font-size="5.2" fill="#3b5288" textLength="32.5" lengthAdjust="spacingAndGlyphs">RCC Network</text>
<text x="628.6" y="933.9" font-family="Liberation Serif, serif" font-size="23.5" fill="#15100a" stroke="#15100a" stroke-width=".75">May</text>
<text x="1436.3" y="594.9" font-family="Liberation Sans, sans-serif" font-weight="bold" font-size="8.4" fill="#23407f" textLength="32.7" lengthAdjust="spacingAndGlyphs">WMO <tspan fill="#6a9fd8" font-weight="normal">RA VI</tspan></text>
<text x="1436.3" y="600.5" font-family="Liberation Sans, sans-serif" font-weight="bold" font-size="5.2" fill="#3b5288" textLength="32.5" lengthAdjust="spacingAndGlyphs">RCC Network</text>
<text x="1071.6" y="933.9" font-family="Liberation Serif, serif" font-size="23.5" fill="#15100a" stroke="#15100a" stroke-width=".75">Jun</text>
<text x="550.3" y="970.6" font-family="Liberation Sans, sans-serif" font-weight="bold" font-size="8.4" fill="#23407f" textLength="32.7" lengthAdjust="spacingAndGlyphs">WMO <tspan fill="#6a9fd8" font-weight="normal">RA VI</tspan></text>
<text x="550.3" y="976.2" font-family="Liberation Sans, sans-serif" font-weight="bold" font-size="5.2" fill="#3b5288" textLength="32.5" lengthAdjust="spacingAndGlyphs">RCC Network</text>
<text x="185.6" y="1309.6" font-family="Liberation Serif, serif" font-size="23.5" fill="#15100a" stroke="#15100a" stroke-width=".75">Jul</text>
<text x="993.3" y="970.6" font-family="Liberation Sans, sans-serif" font-weight="bold" font-size="8.4" fill="#23407f" textLength="32.7" lengthAdjust="spacingAndGlyphs">WMO <tspan fill="#6a9fd8" font-weight="normal">RA VI</tspan></text>
<text x="993.3" y="976.2" font-family="Liberation Sans, sans-serif" font-weight="bold" font-size="5.2" fill="#3b5288" textLength="32.5" lengthAdjust="spacingAndGlyphs">RCC Network</text>
<text x="628.6" y="1309.6" font-family="Liberation Serif, serif" font-size="23.5" fill="#15100a" stroke="#15100a" stroke-width=".75">Aug</text>
<text x="1436.3" y="970.6" font-family="Liberation Sans, sans-serif" font-weight="bold" font-size="8.4" fill="#23407f" textLength="32.7" lengthAdjust="spacingAndGlyphs">WMO <tspan fill="#6a9fd8" font-weight="normal">RA VI</tspan></text>
<text x="1436.3" y="976.2" font-family="Liberation Sans, sans-serif" font-weight="bold" font-size="5.2" fill="#3b5288" textLength="32.5" lengthAdjust="spacingAndGlyphs">RCC Network</text>
<text x="1071.6" y="1309.6" font-family="Liberation Serif, serif" font-size="23.5" fill="#15100a" stroke="#15100a" stroke-width=".75">Sep</text>
<text x="550.3" y="1346.4" font-family="Liberation Sans, sans-serif" font-weight="bold" font-size="8.4" fill="#23407f" textLength="32.7" lengthAdjust="spacingAndGlyphs">WMO <tspan fill="#6a9fd8" font-weight="normal">RA VI</tspan></text>
<text x="550.3" y="1352.0" font-family="Liberation Sans, sans-serif" font-weight="bold" font-size="5.2" fill="#3b5288" textLength="32.5" lengthAdjust="spacingAndGlyphs">RCC Network</text>
<text x="185.6" y="1685.3" font-family="Liberation Serif, serif" font-size="23.5" fill="#15100a" stroke="#15100a" stroke-width=".75">Oct</text>
<text x="993.3" y="1346.4" font-family="Liberation Sans, sans-serif" font-weight="bold" font-size="8.4" fill="#23407f" textLength="32.7" lengthAdjust="spacingAndGlyphs">WMO <tspan fill="#6a9fd8" font-weight="normal">RA VI</tspan></text>
<text x="993.3" y="1352.0" font-family="Liberation Sans, sans-serif" font-weight="bold" font-size="5.2" fill="#3b5288" textLength="32.5" lengthAdjust="spacingAndGlyphs">RCC Network</text>
<text x="628.6" y="1685.3" font-family="Liberation Serif, serif" font-size="23.5" fill="#15100a" stroke="#15100a" stroke-width=".75">Nov</text>
<text x="1436.3" y="1346.4" font-family="Liberation Sans, sans-serif" font-weight="bold" font-size="8.4" fill="#23407f" textLength="32.7" lengthAdjust="spacingAndGlyphs">WMO <tspan fill="#6a9fd8" font-weight="normal">RA VI</tspan></text>
<text x="1436.3" y="1352.0" font-family="Liberation Sans, sans-serif" font-weight="bold" font-size="5.2" fill="#3b5288" textLength="32.5" lengthAdjust="spacingAndGlyphs">RCC Network</text>
<text x="1071.6" y="1685.3" font-family="Liberation Serif, serif" font-size="23.5" fill="#15100a" stroke="#15100a" stroke-width=".75">Dec</text>
</svg>
<div class="cb"><i style="background:#00008b"></i><i style="background:#3a5fcd"></i><i style="background:#63b8ff"></i><i style="background:#bfefff"></i><i style="background:#f0ffff"></i><i style="background:#fff68f"></i><i style="background:#ffc125"></i><i style="background:#ffa500"></i><i style="background:#ee0000"></i></div>
<div class="tk" style="left:318px"></div><div class="abs tl" style="left:258.5px">995</div>
<div class="tk" style="left:463px"></div><div class="abs tl" style="left:404.0px">1000</div>
<div class="tk" style="left:608px"></div><div class="abs tl" style="left:549.5px">1005</div>
<div class="tk" style="left:754px"></div><div class="abs tl" style="left:695.0px">1010</div>
<div class="tk" style="left:900px"></div><div class="abs tl" style="left:840.5px">1015</div>
<div class="tk" style="left:1045px"></div><div class="abs tl" style="left:986.0px">1020</div>
<div class="tk" style="left:1190px"></div><div class="abs tl" style="left:1131.5px">1025</div>
<div class="tk" style="left:1336px"></div><div class="abs tl" style="left:1277.0px">1030</div>
<div class="abs tl" style="left:767px;top:1820px">[hPa]</div>
<div class="abs cap" style="left:157px"><b>Figure 4-1:</b></div>
<div class="abs cap" style="left:317px">Monthly mean sea level pressure in h Pa for each month of the year 2021. Source: <a>RCC-CM website</a>.</div>
</body></html>
